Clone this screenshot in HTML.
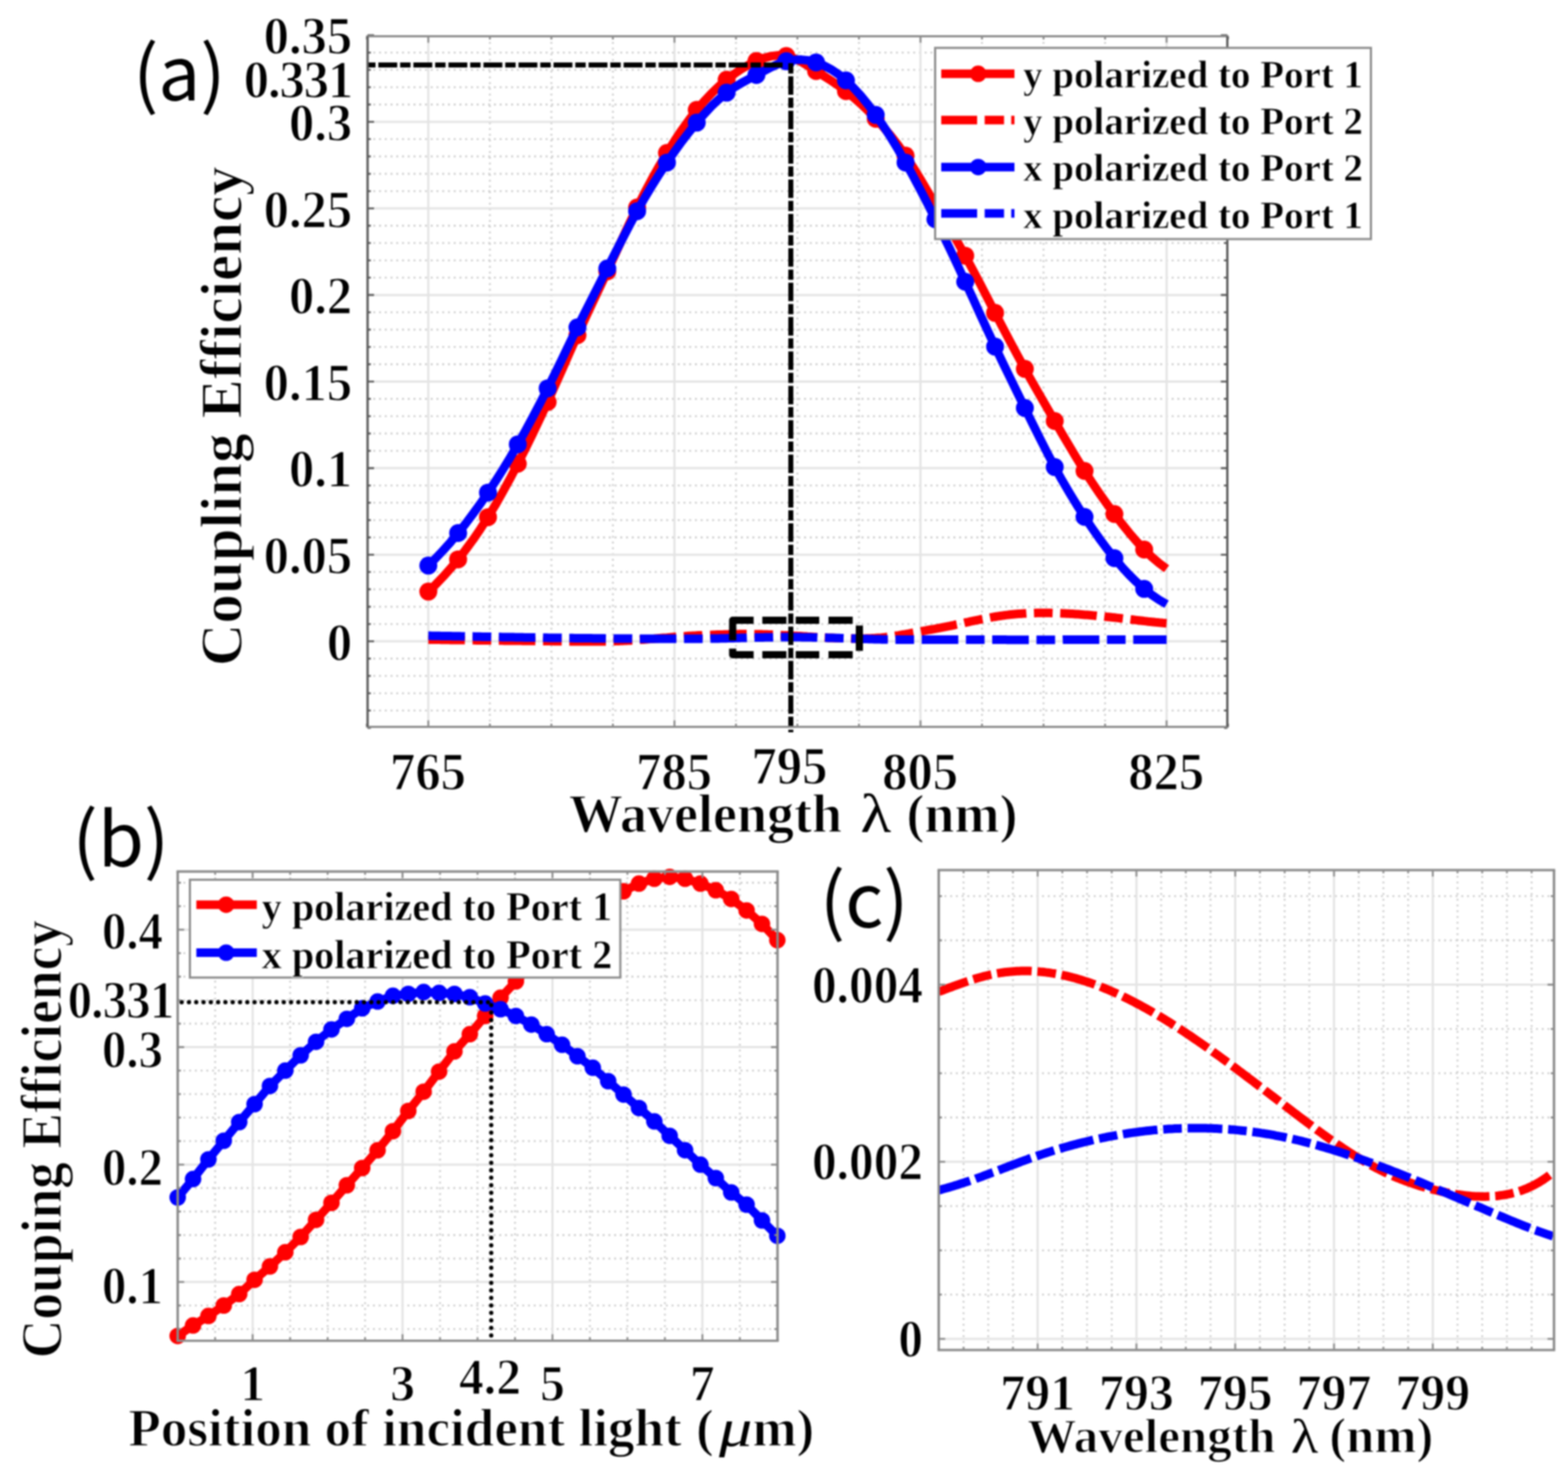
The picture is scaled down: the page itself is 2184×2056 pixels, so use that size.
<!DOCTYPE html>
<html><head><meta charset="utf-8"><title>Coupling efficiency figure</title>
<style>html,body{margin:0;padding:0;background:#fff;}svg{display:block;filter:blur(1px);}</style>
</head><body>
<svg width="2184" height="2056" viewBox="0 0 2184 2056">
<rect width="2184" height="2056" fill="#fff"/>
<g id="pa">
<line x1="682.3" y1="50.5" x2="682.3" y2="1012.5" stroke="#cdcdcd" stroke-width="2.6" stroke-dasharray="2.6 5.4"/>
<line x1="768" y1="50.5" x2="768" y2="1012.5" stroke="#cdcdcd" stroke-width="2.6" stroke-dasharray="2.6 5.4"/>
<line x1="853.7" y1="50.5" x2="853.7" y2="1012.5" stroke="#cdcdcd" stroke-width="2.6" stroke-dasharray="2.6 5.4"/>
<line x1="1025.1" y1="50.5" x2="1025.1" y2="1012.5" stroke="#cdcdcd" stroke-width="2.6" stroke-dasharray="2.6 5.4"/>
<line x1="1110.7" y1="50.5" x2="1110.7" y2="1012.5" stroke="#cdcdcd" stroke-width="2.6" stroke-dasharray="2.6 5.4"/>
<line x1="1196.4" y1="50.5" x2="1196.4" y2="1012.5" stroke="#cdcdcd" stroke-width="2.6" stroke-dasharray="2.6 5.4"/>
<line x1="1367.8" y1="50.5" x2="1367.8" y2="1012.5" stroke="#cdcdcd" stroke-width="2.6" stroke-dasharray="2.6 5.4"/>
<line x1="1453.5" y1="50.5" x2="1453.5" y2="1012.5" stroke="#cdcdcd" stroke-width="2.6" stroke-dasharray="2.6 5.4"/>
<line x1="1539.2" y1="50.5" x2="1539.2" y2="1012.5" stroke="#cdcdcd" stroke-width="2.6" stroke-dasharray="2.6 5.4"/>
<line x1="512" y1="989.8" x2="1709.5" y2="989.8" stroke="#cdcdcd" stroke-width="2.6" stroke-dasharray="2.6 5.4"/>
<line x1="512" y1="965.7" x2="1709.5" y2="965.7" stroke="#cdcdcd" stroke-width="2.6" stroke-dasharray="2.6 5.4"/>
<line x1="512" y1="941.5" x2="1709.5" y2="941.5" stroke="#cdcdcd" stroke-width="2.6" stroke-dasharray="2.6 5.4"/>
<line x1="512" y1="917.4" x2="1709.5" y2="917.4" stroke="#cdcdcd" stroke-width="2.6" stroke-dasharray="2.6 5.4"/>
<line x1="512" y1="869.2" x2="1709.5" y2="869.2" stroke="#cdcdcd" stroke-width="2.6" stroke-dasharray="2.6 5.4"/>
<line x1="512" y1="845.1" x2="1709.5" y2="845.1" stroke="#cdcdcd" stroke-width="2.6" stroke-dasharray="2.6 5.4"/>
<line x1="512" y1="820.9" x2="1709.5" y2="820.9" stroke="#cdcdcd" stroke-width="2.6" stroke-dasharray="2.6 5.4"/>
<line x1="512" y1="796.8" x2="1709.5" y2="796.8" stroke="#cdcdcd" stroke-width="2.6" stroke-dasharray="2.6 5.4"/>
<line x1="512" y1="748.6" x2="1709.5" y2="748.6" stroke="#cdcdcd" stroke-width="2.6" stroke-dasharray="2.6 5.4"/>
<line x1="512" y1="724.5" x2="1709.5" y2="724.5" stroke="#cdcdcd" stroke-width="2.6" stroke-dasharray="2.6 5.4"/>
<line x1="512" y1="700.3" x2="1709.5" y2="700.3" stroke="#cdcdcd" stroke-width="2.6" stroke-dasharray="2.6 5.4"/>
<line x1="512" y1="676.2" x2="1709.5" y2="676.2" stroke="#cdcdcd" stroke-width="2.6" stroke-dasharray="2.6 5.4"/>
<line x1="512" y1="628" x2="1709.5" y2="628" stroke="#cdcdcd" stroke-width="2.6" stroke-dasharray="2.6 5.4"/>
<line x1="512" y1="603.9" x2="1709.5" y2="603.9" stroke="#cdcdcd" stroke-width="2.6" stroke-dasharray="2.6 5.4"/>
<line x1="512" y1="579.7" x2="1709.5" y2="579.7" stroke="#cdcdcd" stroke-width="2.6" stroke-dasharray="2.6 5.4"/>
<line x1="512" y1="555.6" x2="1709.5" y2="555.6" stroke="#cdcdcd" stroke-width="2.6" stroke-dasharray="2.6 5.4"/>
<line x1="512" y1="507.4" x2="1709.5" y2="507.4" stroke="#cdcdcd" stroke-width="2.6" stroke-dasharray="2.6 5.4"/>
<line x1="512" y1="483.3" x2="1709.5" y2="483.3" stroke="#cdcdcd" stroke-width="2.6" stroke-dasharray="2.6 5.4"/>
<line x1="512" y1="459.1" x2="1709.5" y2="459.1" stroke="#cdcdcd" stroke-width="2.6" stroke-dasharray="2.6 5.4"/>
<line x1="512" y1="435" x2="1709.5" y2="435" stroke="#cdcdcd" stroke-width="2.6" stroke-dasharray="2.6 5.4"/>
<line x1="512" y1="386.8" x2="1709.5" y2="386.8" stroke="#cdcdcd" stroke-width="2.6" stroke-dasharray="2.6 5.4"/>
<line x1="512" y1="362.7" x2="1709.5" y2="362.7" stroke="#cdcdcd" stroke-width="2.6" stroke-dasharray="2.6 5.4"/>
<line x1="512" y1="338.5" x2="1709.5" y2="338.5" stroke="#cdcdcd" stroke-width="2.6" stroke-dasharray="2.6 5.4"/>
<line x1="512" y1="314.4" x2="1709.5" y2="314.4" stroke="#cdcdcd" stroke-width="2.6" stroke-dasharray="2.6 5.4"/>
<line x1="512" y1="266.2" x2="1709.5" y2="266.2" stroke="#cdcdcd" stroke-width="2.6" stroke-dasharray="2.6 5.4"/>
<line x1="512" y1="242.1" x2="1709.5" y2="242.1" stroke="#cdcdcd" stroke-width="2.6" stroke-dasharray="2.6 5.4"/>
<line x1="512" y1="217.9" x2="1709.5" y2="217.9" stroke="#cdcdcd" stroke-width="2.6" stroke-dasharray="2.6 5.4"/>
<line x1="512" y1="193.8" x2="1709.5" y2="193.8" stroke="#cdcdcd" stroke-width="2.6" stroke-dasharray="2.6 5.4"/>
<line x1="512" y1="145.6" x2="1709.5" y2="145.6" stroke="#cdcdcd" stroke-width="2.6" stroke-dasharray="2.6 5.4"/>
<line x1="512" y1="121.5" x2="1709.5" y2="121.5" stroke="#cdcdcd" stroke-width="2.6" stroke-dasharray="2.6 5.4"/>
<line x1="512" y1="97.3" x2="1709.5" y2="97.3" stroke="#cdcdcd" stroke-width="2.6" stroke-dasharray="2.6 5.4"/>
<line x1="512" y1="73.2" x2="1709.5" y2="73.2" stroke="#cdcdcd" stroke-width="2.6" stroke-dasharray="2.6 5.4"/>
<line x1="596.6" y1="50.5" x2="596.6" y2="1012.5" stroke="#e4e4e4" stroke-width="3"/>
<line x1="939.4" y1="50.5" x2="939.4" y2="1012.5" stroke="#e4e4e4" stroke-width="3"/>
<line x1="1282.1" y1="50.5" x2="1282.1" y2="1012.5" stroke="#e4e4e4" stroke-width="3"/>
<line x1="1624.9" y1="50.5" x2="1624.9" y2="1012.5" stroke="#e4e4e4" stroke-width="3"/>
<line x1="512" y1="893.3" x2="1709.5" y2="893.3" stroke="#e4e4e4" stroke-width="3"/>
<line x1="512" y1="772.7" x2="1709.5" y2="772.7" stroke="#e4e4e4" stroke-width="3"/>
<line x1="512" y1="652.1" x2="1709.5" y2="652.1" stroke="#e4e4e4" stroke-width="3"/>
<line x1="512" y1="531.5" x2="1709.5" y2="531.5" stroke="#e4e4e4" stroke-width="3"/>
<line x1="512" y1="410.9" x2="1709.5" y2="410.9" stroke="#e4e4e4" stroke-width="3"/>
<line x1="512" y1="290.3" x2="1709.5" y2="290.3" stroke="#e4e4e4" stroke-width="3"/>
<line x1="512" y1="169.7" x2="1709.5" y2="169.7" stroke="#e4e4e4" stroke-width="3"/>
<path d="M596.6 824.1 L607 814 L617.4 803.2 L627.8 791.6 L638.1 779.2 L648.5 765.9 L658.9 751.8 L669.3 736.6 L679.7 720.4 L690.1 703.2 L700.5 684.9 L710.9 665.8 L721.2 646 L731.6 625.5 L742 604.3 L752.4 582.5 L762.8 560 L773.2 536.9 L783.6 513.5 L793.9 490.1 L804.3 467 L814.7 444.5 L825.1 422.3 L835.5 400.2 L845.9 378 L856.3 355.4 L866.7 332.8 L877 310.6 L887.4 289 L897.8 268.5 L908.2 249 L918.6 230.5 L929 213 L939.4 196.4 L949.7 180.9 L960.1 166.4 L970.5 153 L980.9 140.8 L991.3 129.8 L1001.7 119.9 L1012.1 111 L1022.5 103.1 L1032.8 96.1 L1043.2 90.1 L1053.6 85 L1064 80.9 L1074.4 78.1 L1084.8 77 L1095.2 78 L1105.5 81.2 L1115.9 86.2 L1126.3 92.4 L1136.7 99 L1147.1 105.6 L1157.5 112.3 L1167.9 119.4 L1178.3 127 L1188.6 135.5 L1199 144.7 L1209.4 154.7 L1219.8 165.4 L1230.2 176.8 L1240.6 189 L1251 202.2 L1261.3 216.8 L1271.7 232.7 L1282.1 249.7 L1292.5 267.3 L1302.9 285 L1313.3 302.5 L1323.7 320 L1334.1 337.8 L1344.4 356.2 L1354.8 375.5 L1365.2 395.3 L1375.6 415.6 L1386 435.8 L1396.4 455.8 L1406.8 475.5 L1417.1 494.8 L1427.5 513.8 L1437.9 532.4 L1448.3 550.6 L1458.7 568.6 L1469.1 586.5 L1479.5 604.4 L1489.9 622 L1500.2 639.3 L1510.6 656 L1521 672 L1531.4 687.3 L1541.8 701.9 L1552.2 716 L1562.6 729.5 L1572.9 742.3 L1583.3 754.4 L1593.7 765.5 L1604.1 775.6 L1614.5 784.5 L1624.9 792.2" stroke="#ff0000" stroke-width="12" fill="none" stroke-linejoin="round"/>
<circle cx="596.6" cy="824.1" r="12.5" fill="#ff0000"/>
<circle cx="638.1" cy="779.2" r="12.5" fill="#ff0000"/>
<circle cx="679.7" cy="720.4" r="12.5" fill="#ff0000"/>
<circle cx="721.2" cy="646" r="12.5" fill="#ff0000"/>
<circle cx="762.8" cy="560" r="12.5" fill="#ff0000"/>
<circle cx="804.3" cy="467" r="12.5" fill="#ff0000"/>
<circle cx="845.9" cy="378" r="12.5" fill="#ff0000"/>
<circle cx="887.4" cy="289" r="12.5" fill="#ff0000"/>
<circle cx="929" cy="213" r="12.5" fill="#ff0000"/>
<circle cx="970.5" cy="153" r="12.5" fill="#ff0000"/>
<circle cx="1012.1" cy="111" r="12.5" fill="#ff0000"/>
<circle cx="1053.6" cy="85" r="12.5" fill="#ff0000"/>
<circle cx="1095.2" cy="78" r="12.5" fill="#ff0000"/>
<circle cx="1136.7" cy="99" r="12.5" fill="#ff0000"/>
<circle cx="1178.3" cy="127" r="12.5" fill="#ff0000"/>
<circle cx="1219.8" cy="165.4" r="12.5" fill="#ff0000"/>
<circle cx="1261.3" cy="216.8" r="12.5" fill="#ff0000"/>
<circle cx="1302.9" cy="285" r="12.5" fill="#ff0000"/>
<circle cx="1344.4" cy="356.2" r="12.5" fill="#ff0000"/>
<circle cx="1386" cy="435.8" r="12.5" fill="#ff0000"/>
<circle cx="1427.5" cy="513.8" r="12.5" fill="#ff0000"/>
<circle cx="1469.1" cy="586.5" r="12.5" fill="#ff0000"/>
<circle cx="1510.6" cy="656" r="12.5" fill="#ff0000"/>
<circle cx="1552.2" cy="716" r="12.5" fill="#ff0000"/>
<circle cx="1593.7" cy="765.5" r="12.5" fill="#ff0000"/>
<path d="M596.6 890.9 L599.2 890.9 L601.8 891 L604.3 891 L606.9 891 L609.5 891.1 L612.1 891.1 L614.6 891.2 L617.2 891.2 L619.8 891.2 L622.4 891.3 L624.9 891.3 L627.5 891.4 L630.1 891.4 L632.7 891.4 L635.3 891.5 L637.8 891.5 L640.4 891.5 L643 891.6 L645.6 891.6 L648.1 891.7 L650.7 891.7 L653.3 891.7 L655.9 891.8 L658.5 891.8 L661 891.8 L663.6 891.9 L666.2 891.9 L668.8 891.9 L671.3 892 L673.9 892 L676.5 892 L679.1 892.1 L681.6 892.1 L684.2 892.1 L686.8 892.2 L689.4 892.2 L692 892.2 L694.5 892.3 L697.1 892.3 L699.7 892.3 L702.3 892.4 L704.8 892.4 L707.4 892.4 L710 892.4 L712.6 892.5 L715.1 892.5 L717.7 892.5 L720.3 892.6 L722.9 892.6 L725.5 892.6 L728 892.7 L730.6 892.7 L733.2 892.7 L735.8 892.8 L738.3 892.8 L740.9 892.8 L743.5 892.8 L746.1 892.9 L748.7 892.9 L751.2 892.9 L753.8 893 L756.4 893 L759 893 L761.5 893.1 L764.1 893.1 L766.7 893.1 L769.3 893.1 L771.8 893.2 L774.4 893.2 L777 893.2 L779.6 893.3 L782.2 893.3 L784.7 893.3 L787.3 893.4 L789.9 893.4 L792.5 893.4 L795 893.4 L797.6 893.5 L800.2 893.5 L802.8 893.5 L805.3 893.5 L807.9 893.6 L810.5 893.6 L813.1 893.6 L815.7 893.6 L818.2 893.6 L820.8 893.6 L823.4 893.6 L826 893.6 L828.5 893.6 L831.1 893.6 L833.7 893.6 L836.3 893.6 L838.9 893.5 L841.4 893.5 L844 893.5 L846.6 893.4 L849.2 893.3 L851.7 893.3 L854.3 893.2 L856.9 893.1 L859.5 893 L862 892.9 L864.6 892.8 L867.2 892.7 L869.8 892.6 L872.4 892.5 L874.9 892.3 L877.5 892.2 L880.1 892 L882.7 891.8 L885.2 891.7 L887.8 891.5 L890.4 891.3 L893 891.1 L895.5 890.9 L898.1 890.7 L900.7 890.5 L903.3 890.3 L905.9 890.1 L908.4 889.9 L911 889.7 L913.6 889.4 L916.2 889.2 L918.7 889 L921.3 888.8 L923.9 888.6 L926.5 888.4 L929.1 888.2 L931.6 887.9 L934.2 887.7 L936.8 887.5 L939.4 887.3 L941.9 887.1 L944.5 886.9 L947.1 886.7 L949.7 886.5 L952.2 886.4 L954.8 886.2 L957.4 886 L960 885.8 L962.6 885.7 L965.1 885.5 L967.7 885.4 L970.3 885.2 L972.9 885.1 L975.4 885 L978 884.9 L980.6 884.7 L983.2 884.6 L985.7 884.5 L988.3 884.5 L990.9 884.4 L993.5 884.3 L996.1 884.2 L998.6 884.1 L1001.2 884 L1003.8 884 L1006.4 883.9 L1008.9 883.8 L1011.5 883.7 L1014.1 883.7 L1016.7 883.6 L1019.3 883.5 L1021.8 883.5 L1024.4 883.4 L1027 883.4 L1029.6 883.3 L1032.1 883.3 L1034.7 883.3 L1037.3 883.3 L1039.9 883.3 L1042.4 883.3 L1045 883.3 L1047.6 883.3 L1050.2 883.4 L1052.8 883.4 L1055.3 883.5 L1057.9 883.5 L1060.5 883.6 L1063.1 883.7 L1065.6 883.8 L1068.2 883.8 L1070.8 883.9 L1073.4 884 L1075.9 884.1 L1078.5 884.2 L1081.1 884.4 L1083.7 884.5 L1086.3 884.6 L1088.8 884.7 L1091.4 884.9 L1094 885 L1096.6 885.1 L1099.1 885.3 L1101.7 885.4 L1104.3 885.6 L1106.9 885.7 L1109.5 885.8 L1112 886 L1114.6 886.1 L1117.2 886.3 L1119.8 886.5 L1122.3 886.6 L1124.9 886.8 L1127.5 886.9 L1130.1 887.1 L1132.6 887.2 L1135.2 887.4 L1137.8 887.5 L1140.4 887.7 L1143 887.8 L1145.5 888 L1148.1 888.1 L1150.7 888.2 L1153.3 888.4 L1155.8 888.5 L1158.4 888.6 L1161 888.7 L1163.6 888.8 L1166.1 888.9 L1168.7 889 L1171.3 889 L1173.9 889.1 L1176.5 889.2 L1179 889.2 L1181.6 889.3 L1184.2 889.3 L1186.8 889.4 L1189.3 889.4 L1191.9 889.4 L1194.5 889.4 L1197.1 889.4 L1199.7 889.4 L1202.2 889.4 L1204.8 889.4 L1207.4 889.3 L1210 889.3 L1212.5 889.2 L1215.1 889.1 L1217.7 889 L1220.3 888.8 L1222.8 888.6 L1225.4 888.4 L1228 888.2 L1230.6 887.9 L1233.2 887.6 L1235.7 887.3 L1238.3 887 L1240.9 886.6 L1243.5 886.3 L1246 885.9 L1248.6 885.5 L1251.2 885.1 L1253.8 884.6 L1256.3 884.2 L1258.9 883.8 L1261.5 883.3 L1264.1 882.8 L1266.7 882.4 L1269.2 881.9 L1271.8 881.4 L1274.4 881 L1277 880.5 L1279.5 880 L1282.1 879.6 L1284.7 879.1 L1287.3 878.6 L1289.9 878.2 L1292.4 877.7 L1295 877.2 L1297.6 876.8 L1300.2 876.3 L1302.7 875.9 L1305.3 875.4 L1307.9 874.9 L1310.5 874.4 L1313 873.9 L1315.6 873.4 L1318.2 872.9 L1320.8 872.4 L1323.4 871.9 L1325.9 871.3 L1328.5 870.8 L1331.1 870.2 L1333.7 869.7 L1336.2 869.1 L1338.8 868.5 L1341.4 868 L1344 867.4 L1346.5 866.8 L1349.1 866.3 L1351.7 865.7 L1354.3 865.2 L1356.9 864.6 L1359.4 864.1 L1362 863.6 L1364.6 863 L1367.2 862.5 L1369.7 862 L1372.3 861.5 L1374.9 861 L1377.5 860.6 L1380.1 860.1 L1382.6 859.7 L1385.2 859.2 L1387.8 858.8 L1390.4 858.4 L1392.9 858 L1395.5 857.6 L1398.1 857.3 L1400.7 856.9 L1403.2 856.6 L1405.8 856.3 L1408.4 856 L1411 855.7 L1413.6 855.5 L1416.1 855.3 L1418.7 855.1 L1421.3 854.9 L1423.9 854.7 L1426.4 854.5 L1429 854.4 L1431.6 854.2 L1434.2 854.1 L1436.7 854 L1439.3 854 L1441.9 853.9 L1444.5 853.8 L1447.1 853.8 L1449.6 853.8 L1452.2 853.8 L1454.8 853.8 L1457.4 853.8 L1459.9 853.8 L1462.5 853.8 L1465.1 853.9 L1467.7 854 L1470.3 854 L1472.8 854.1 L1475.4 854.2 L1478 854.3 L1480.6 854.4 L1483.1 854.5 L1485.7 854.7 L1488.3 854.8 L1490.9 855 L1493.4 855.1 L1496 855.3 L1498.6 855.5 L1501.2 855.6 L1503.8 855.8 L1506.3 856 L1508.9 856.2 L1511.5 856.4 L1514.1 856.6 L1516.6 856.8 L1519.2 857 L1521.8 857.3 L1524.4 857.5 L1526.9 857.7 L1529.5 858 L1532.1 858.2 L1534.7 858.5 L1537.3 858.7 L1539.8 859 L1542.4 859.2 L1545 859.5 L1547.6 859.8 L1550.1 860.1 L1552.7 860.3 L1555.3 860.6 L1557.9 860.9 L1560.5 861.2 L1563 861.5 L1565.6 861.8 L1568.2 862.1 L1570.8 862.4 L1573.3 862.7 L1575.9 863 L1578.5 863.3 L1581.1 863.6 L1583.6 863.9 L1586.2 864.2 L1588.8 864.5 L1591.4 864.8 L1594 865.1 L1596.5 865.4 L1599.1 865.7 L1601.7 865.9 L1604.3 866.2 L1606.8 866.5 L1609.4 866.8 L1612 867 L1614.6 867.3 L1617.1 867.5 L1619.7 867.8 L1622.3 868 L1624.9 868.2" stroke="#ff0000" stroke-width="12" fill="none" stroke-dasharray="51 10.6 26 10.6"/>
<path d="M596.6 787.8 L607 777.5 L617.4 766.5 L627.8 754.9 L638.1 742.5 L648.5 729.5 L658.9 715.7 L669.3 701.3 L679.7 686.2 L690.1 670.4 L700.5 653.9 L710.9 636.8 L721.2 618.9 L731.6 600.4 L742 581.2 L752.4 561.3 L762.8 540.9 L773.2 519.9 L783.6 498.6 L793.9 477.2 L804.3 456 L814.7 435.2 L825.1 414.7 L835.5 394.3 L845.9 374 L856.3 353.6 L866.7 333.3 L877 313.4 L887.4 294.2 L897.8 275.9 L908.2 258.6 L918.6 242.1 L929 226.4 L939.4 211.4 L949.7 197.1 L960.1 183.6 L970.5 170.8 L980.9 158.8 L991.3 147.7 L1001.7 137.8 L1012.1 129.1 L1022.5 121.8 L1032.8 115.6 L1043.2 110 L1053.6 104.5 L1064 98.9 L1074.4 93.5 L1084.8 88.8 L1095.2 85.3 L1105.5 83.4 L1115.9 83.1 L1126.3 84.3 L1136.7 87 L1147.1 91.1 L1157.5 96.6 L1167.9 103.5 L1178.3 112 L1188.6 122 L1199 133.4 L1209.4 146.1 L1219.8 160.1 L1230.2 175.2 L1240.6 191.3 L1251 208.4 L1261.3 226.4 L1271.7 245.2 L1282.1 264.7 L1292.5 284.8 L1302.9 305.5 L1313.3 326.6 L1323.7 348.2 L1334.1 370.2 L1344.4 392.5 L1354.8 415.1 L1365.2 437.9 L1375.6 460.5 L1386 482.8 L1396.4 504.6 L1406.8 526 L1417.1 547.2 L1427.5 568.3 L1437.9 589.5 L1448.3 610.4 L1458.7 630.9 L1469.1 650.6 L1479.5 669.3 L1489.9 687 L1500.2 703.9 L1510.6 720 L1521 735.5 L1531.4 750.3 L1541.8 764.3 L1552.2 777.5 L1562.6 789.7 L1572.9 800.9 L1583.3 811.1 L1593.7 820.3 L1604.1 828.5 L1614.5 835.6 L1624.9 841.6" stroke="#0000ff" stroke-width="12" fill="none" stroke-linejoin="round"/>
<circle cx="596.6" cy="787.8" r="12.5" fill="#0000ff"/>
<circle cx="638.1" cy="742.5" r="12.5" fill="#0000ff"/>
<circle cx="679.7" cy="686.2" r="12.5" fill="#0000ff"/>
<circle cx="721.2" cy="618.9" r="12.5" fill="#0000ff"/>
<circle cx="762.8" cy="540.9" r="12.5" fill="#0000ff"/>
<circle cx="804.3" cy="456" r="12.5" fill="#0000ff"/>
<circle cx="845.9" cy="374" r="12.5" fill="#0000ff"/>
<circle cx="887.4" cy="294.2" r="12.5" fill="#0000ff"/>
<circle cx="929" cy="226.4" r="12.5" fill="#0000ff"/>
<circle cx="970.5" cy="170.8" r="12.5" fill="#0000ff"/>
<circle cx="1012.1" cy="129.1" r="12.5" fill="#0000ff"/>
<circle cx="1053.6" cy="104.5" r="12.5" fill="#0000ff"/>
<circle cx="1095.2" cy="85.3" r="12.5" fill="#0000ff"/>
<circle cx="1136.7" cy="87" r="12.5" fill="#0000ff"/>
<circle cx="1178.3" cy="112" r="12.5" fill="#0000ff"/>
<circle cx="1219.8" cy="160.1" r="12.5" fill="#0000ff"/>
<circle cx="1261.3" cy="226.4" r="12.5" fill="#0000ff"/>
<circle cx="1302.9" cy="305.5" r="12.5" fill="#0000ff"/>
<circle cx="1344.4" cy="392.5" r="12.5" fill="#0000ff"/>
<circle cx="1386" cy="482.8" r="12.5" fill="#0000ff"/>
<circle cx="1427.5" cy="568.3" r="12.5" fill="#0000ff"/>
<circle cx="1469.1" cy="650.6" r="12.5" fill="#0000ff"/>
<circle cx="1510.6" cy="720" r="12.5" fill="#0000ff"/>
<circle cx="1552.2" cy="777.5" r="12.5" fill="#0000ff"/>
<circle cx="1593.7" cy="820.3" r="12.5" fill="#0000ff"/>
<path d="M596.6 885.6 L599.2 885.6 L601.8 885.7 L604.3 885.7 L606.9 885.7 L609.5 885.8 L612.1 885.8 L614.6 885.9 L617.2 885.9 L619.8 886 L622.4 886 L624.9 886.1 L627.5 886.1 L630.1 886.2 L632.7 886.2 L635.3 886.2 L637.8 886.3 L640.4 886.3 L643 886.4 L645.6 886.4 L648.1 886.5 L650.7 886.5 L653.3 886.6 L655.9 886.6 L658.5 886.6 L661 886.7 L663.6 886.7 L666.2 886.8 L668.8 886.8 L671.3 886.9 L673.9 886.9 L676.5 887 L679.1 887 L681.6 887 L684.2 887.1 L686.8 887.1 L689.4 887.2 L692 887.2 L694.5 887.3 L697.1 887.3 L699.7 887.4 L702.3 887.4 L704.8 887.4 L707.4 887.5 L710 887.5 L712.6 887.6 L715.1 887.6 L717.7 887.7 L720.3 887.7 L722.9 887.7 L725.5 887.8 L728 887.8 L730.6 887.9 L733.2 887.9 L735.8 887.9 L738.3 888 L740.9 888 L743.5 888.1 L746.1 888.1 L748.7 888.2 L751.2 888.2 L753.8 888.2 L756.4 888.3 L759 888.3 L761.5 888.3 L764.1 888.4 L766.7 888.4 L769.3 888.5 L771.8 888.5 L774.4 888.5 L777 888.6 L779.6 888.6 L782.2 888.6 L784.7 888.7 L787.3 888.7 L789.9 888.7 L792.5 888.8 L795 888.8 L797.6 888.8 L800.2 888.9 L802.8 888.9 L805.3 888.9 L807.9 889 L810.5 889 L813.1 889 L815.7 889.1 L818.2 889.1 L820.8 889.1 L823.4 889.1 L826 889.2 L828.5 889.2 L831.1 889.2 L833.7 889.3 L836.3 889.3 L838.9 889.3 L841.4 889.3 L844 889.4 L846.6 889.4 L849.2 889.4 L851.7 889.4 L854.3 889.5 L856.9 889.5 L859.5 889.5 L862 889.5 L864.6 889.5 L867.2 889.6 L869.8 889.6 L872.4 889.6 L874.9 889.6 L877.5 889.6 L880.1 889.6 L882.7 889.7 L885.2 889.7 L887.8 889.7 L890.4 889.7 L893 889.7 L895.5 889.7 L898.1 889.7 L900.7 889.8 L903.3 889.8 L905.9 889.8 L908.4 889.8 L911 889.8 L913.6 889.8 L916.2 889.8 L918.7 889.8 L921.3 889.8 L923.9 889.8 L926.5 889.8 L929.1 889.8 L931.6 889.8 L934.2 889.8 L936.8 889.8 L939.4 889.8 L941.9 889.8 L944.5 889.8 L947.1 889.8 L949.7 889.8 L952.2 889.8 L954.8 889.8 L957.4 889.8 L960 889.8 L962.6 889.8 L965.1 889.8 L967.7 889.8 L970.3 889.7 L972.9 889.7 L975.4 889.7 L978 889.7 L980.6 889.7 L983.2 889.6 L985.7 889.6 L988.3 889.6 L990.9 889.5 L993.5 889.5 L996.1 889.5 L998.6 889.4 L1001.2 889.4 L1003.8 889.3 L1006.4 889.3 L1008.9 889.2 L1011.5 889.2 L1014.1 889.1 L1016.7 889 L1019.3 889 L1021.8 888.9 L1024.4 888.8 L1027 888.8 L1029.6 888.7 L1032.1 888.6 L1034.7 888.5 L1037.3 888.4 L1039.9 888.4 L1042.4 888.3 L1045 888.2 L1047.6 888.2 L1050.2 888.1 L1052.8 888.1 L1055.3 888 L1057.9 887.9 L1060.5 887.9 L1063.1 887.9 L1065.6 887.8 L1068.2 887.8 L1070.8 887.7 L1073.4 887.7 L1075.9 887.7 L1078.5 887.6 L1081.1 887.6 L1083.7 887.6 L1086.3 887.6 L1088.8 887.6 L1091.4 887.6 L1094 887.6 L1096.6 887.6 L1099.1 887.6 L1101.7 887.6 L1104.3 887.6 L1106.9 887.6 L1109.5 887.6 L1112 887.6 L1114.6 887.6 L1117.2 887.7 L1119.8 887.7 L1122.3 887.7 L1124.9 887.8 L1127.5 887.8 L1130.1 887.8 L1132.6 887.9 L1135.2 887.9 L1137.8 888 L1140.4 888.1 L1143 888.1 L1145.5 888.2 L1148.1 888.2 L1150.7 888.3 L1153.3 888.4 L1155.8 888.4 L1158.4 888.5 L1161 888.6 L1163.6 888.7 L1166.1 888.8 L1168.7 888.8 L1171.3 888.9 L1173.9 889 L1176.5 889.1 L1179 889.2 L1181.6 889.3 L1184.2 889.3 L1186.8 889.4 L1189.3 889.5 L1191.9 889.6 L1194.5 889.7 L1197.1 889.8 L1199.7 889.9 L1202.2 889.9 L1204.8 890 L1207.4 890.1 L1210 890.2 L1212.5 890.3 L1215.1 890.3 L1217.7 890.4 L1220.3 890.5 L1222.8 890.5 L1225.4 890.6 L1228 890.7 L1230.6 890.7 L1233.2 890.7 L1235.7 890.8 L1238.3 890.8 L1240.9 890.8 L1243.5 890.9 L1246 890.9 L1248.6 890.9 L1251.2 890.9 L1253.8 890.9 L1256.3 890.9 L1258.9 890.9 L1261.5 890.9 L1264.1 890.9 L1266.7 890.9 L1269.2 890.9 L1271.8 890.9 L1274.4 890.9 L1277 890.9 L1279.5 890.9 L1282.1 890.9 L1284.7 890.9 L1287.3 890.9 L1289.9 890.9 L1292.4 890.9 L1295 890.9 L1297.6 890.9 L1300.2 890.9 L1302.7 890.9 L1305.3 890.9 L1307.9 890.9 L1310.5 890.9 L1313 891 L1315.6 891 L1318.2 891 L1320.8 891 L1323.4 891 L1325.9 891 L1328.5 891 L1331.1 891 L1333.7 891 L1336.2 891 L1338.8 891 L1341.4 891 L1344 891 L1346.5 891 L1349.1 891 L1351.7 891.1 L1354.3 891.1 L1356.9 891.1 L1359.4 891.1 L1362 891.1 L1364.6 891.1 L1367.2 891.1 L1369.7 891.1 L1372.3 891.1 L1374.9 891.1 L1377.5 891.1 L1380.1 891.1 L1382.6 891.1 L1385.2 891.1 L1387.8 891.1 L1390.4 891.1 L1392.9 891.1 L1395.5 891.1 L1398.1 891.1 L1400.7 891.1 L1403.2 891.2 L1405.8 891.2 L1408.4 891.2 L1411 891.2 L1413.6 891.2 L1416.1 891.2 L1418.7 891.2 L1421.3 891.2 L1423.9 891.2 L1426.4 891.2 L1429 891.2 L1431.6 891.2 L1434.2 891.2 L1436.7 891.2 L1439.3 891.2 L1441.9 891.2 L1444.5 891.2 L1447.1 891.2 L1449.6 891.2 L1452.2 891.2 L1454.8 891.2 L1457.4 891.2 L1459.9 891.2 L1462.5 891.2 L1465.1 891.2 L1467.7 891.2 L1470.3 891.2 L1472.8 891.2 L1475.4 891.2 L1478 891.2 L1480.6 891.1 L1483.1 891.1 L1485.7 891.1 L1488.3 891.1 L1490.9 891.1 L1493.4 891.1 L1496 891.1 L1498.6 891.1 L1501.2 891.1 L1503.8 891.1 L1506.3 891.1 L1508.9 891.1 L1511.5 891.1 L1514.1 891.1 L1516.6 891.1 L1519.2 891.1 L1521.8 891.1 L1524.4 891.1 L1526.9 891.1 L1529.5 891.1 L1532.1 891.1 L1534.7 891.1 L1537.3 891.1 L1539.8 891.1 L1542.4 891.1 L1545 891.1 L1547.6 891.1 L1550.1 891.1 L1552.7 891.1 L1555.3 891.1 L1557.9 891.1 L1560.5 891.1 L1563 891.1 L1565.6 891.1 L1568.2 891.1 L1570.8 891.1 L1573.3 891.1 L1575.9 891.1 L1578.5 891.1 L1581.1 891.1 L1583.6 891.1 L1586.2 891.1 L1588.8 891.1 L1591.4 891.1 L1594 891.1 L1596.5 891.1 L1599.1 891.1 L1601.7 891.1 L1604.3 891.1 L1606.8 891.1 L1609.4 891.1 L1612 891.1 L1614.6 891.1 L1617.1 891.1 L1619.7 891.1 L1622.3 891.1 L1624.9 891.1" stroke="#0000ff" stroke-width="12" fill="none" stroke-dasharray="51 10.6 26 10.6"/>
<path d="M512 90.5 H1094" stroke="#000" stroke-width="7" stroke-dasharray="26.3 4 14.5 4" stroke-dashoffset="33.8"/>
<path d="M1101.5 85.5 V1020" stroke="#000" stroke-width="7" stroke-dasharray="25.8 3.9 14.3 3.9" stroke-dashoffset="27.1"/>
<g stroke="#000" stroke-width="10" fill="none" stroke-linejoin="round">
<path d="M1049.7 864 H1020.5 V892"/>
<path d="M1049.7 912 H1020.5 V903.4"/>
<path d="M1061.8 864 H1095.4 M1061.8 912 H1095.4"/>
<path d="M1108.3 864 H1141.1 M1108.3 912 H1141.1"/>
<path d="M1154 864 H1187.7 M1154 912 H1187.7"/>
<path d="M1197 871.3 V906.6"/>
</g>
<path d="M596.6 1012.5v-9 M596.6 50.5v9 M939.4 1012.5v-9 M939.4 50.5v9 M1282.1 1012.5v-9 M1282.1 50.5v9 M1624.9 1012.5v-9 M1624.9 50.5v9 M510.9 1012.5v-4.5 M510.9 50.5v4.5 M596.6 1012.5v-4.5 M596.6 50.5v4.5 M682.3 1012.5v-4.5 M682.3 50.5v4.5 M768 1012.5v-4.5 M768 50.5v4.5 M853.7 1012.5v-4.5 M853.7 50.5v4.5 M939.4 1012.5v-4.5 M939.4 50.5v4.5 M1025.1 1012.5v-4.5 M1025.1 50.5v4.5 M1110.7 1012.5v-4.5 M1110.7 50.5v4.5 M1196.4 1012.5v-4.5 M1196.4 50.5v4.5 M1282.1 1012.5v-4.5 M1282.1 50.5v4.5 M1367.8 1012.5v-4.5 M1367.8 50.5v4.5 M1453.5 1012.5v-4.5 M1453.5 50.5v4.5 M1539.2 1012.5v-4.5 M1539.2 50.5v4.5 M1624.9 1012.5v-4.5 M1624.9 50.5v4.5 M1710.6 1012.5v-4.5 M1710.6 50.5v4.5" stroke="#8c8c8c" stroke-width="2.6" fill="none"/>
<path d="M512 893.3h9 M1709.5 893.3h-9 M512 772.7h9 M1709.5 772.7h-9 M512 652.1h9 M1709.5 652.1h-9 M512 531.5h9 M1709.5 531.5h-9 M512 410.9h9 M1709.5 410.9h-9 M512 290.3h9 M1709.5 290.3h-9 M512 169.7h9 M1709.5 169.7h-9 M512 49.1h9 M1709.5 49.1h-9 M512 1013.9h4.5 M1709.5 1013.9h-4.5 M512 989.8h4.5 M1709.5 989.8h-4.5 M512 965.7h4.5 M1709.5 965.7h-4.5 M512 941.5h4.5 M1709.5 941.5h-4.5 M512 917.4h4.5 M1709.5 917.4h-4.5 M512 893.3h4.5 M1709.5 893.3h-4.5 M512 869.2h4.5 M1709.5 869.2h-4.5 M512 845.1h4.5 M1709.5 845.1h-4.5 M512 820.9h4.5 M1709.5 820.9h-4.5 M512 796.8h4.5 M1709.5 796.8h-4.5 M512 772.7h4.5 M1709.5 772.7h-4.5 M512 748.6h4.5 M1709.5 748.6h-4.5 M512 724.5h4.5 M1709.5 724.5h-4.5 M512 700.3h4.5 M1709.5 700.3h-4.5 M512 676.2h4.5 M1709.5 676.2h-4.5 M512 652.1h4.5 M1709.5 652.1h-4.5 M512 628h4.5 M1709.5 628h-4.5 M512 603.9h4.5 M1709.5 603.9h-4.5 M512 579.7h4.5 M1709.5 579.7h-4.5 M512 555.6h4.5 M1709.5 555.6h-4.5 M512 531.5h4.5 M1709.5 531.5h-4.5 M512 507.4h4.5 M1709.5 507.4h-4.5 M512 483.3h4.5 M1709.5 483.3h-4.5 M512 459.1h4.5 M1709.5 459.1h-4.5 M512 435h4.5 M1709.5 435h-4.5 M512 410.9h4.5 M1709.5 410.9h-4.5 M512 386.8h4.5 M1709.5 386.8h-4.5 M512 362.7h4.5 M1709.5 362.7h-4.5 M512 338.5h4.5 M1709.5 338.5h-4.5 M512 314.4h4.5 M1709.5 314.4h-4.5 M512 290.3h4.5 M1709.5 290.3h-4.5 M512 266.2h4.5 M1709.5 266.2h-4.5 M512 242.1h4.5 M1709.5 242.1h-4.5 M512 217.9h4.5 M1709.5 217.9h-4.5 M512 193.8h4.5 M1709.5 193.8h-4.5 M512 169.7h4.5 M1709.5 169.7h-4.5 M512 145.6h4.5 M1709.5 145.6h-4.5 M512 121.5h4.5 M1709.5 121.5h-4.5 M512 97.3h4.5 M1709.5 97.3h-4.5 M512 73.2h4.5 M1709.5 73.2h-4.5 M512 49.1h4.5 M1709.5 49.1h-4.5" stroke="#5a5a5a" stroke-width="2.6" fill="none"/>
<path d="M510.4 50.5H1711.1 M510.4 1012.5H1711.1" stroke="#8c8c8c" stroke-width="3.2" fill="none"/>
<path d="M512 50.5V1012.5 M1709.5 50.5V1012.5" stroke="#5a5a5a" stroke-width="3.2" fill="none"/>
<rect x="1302.5" y="66.7" width="607" height="266.3" fill="#fff" stroke="#8c8c8c" stroke-width="3"/>
<path d="M1311 102.8 H1413" stroke="#ff0000" stroke-width="12"/>
<circle cx="1362.5" cy="102.8" r="11.5" fill="#ff0000"/>
<text x="1425" y="122.2" font-family="'Liberation Serif', 'Times New Roman', serif" font-weight="bold" font-size="54.3" text-anchor="start" stroke="#fff" stroke-width="0.8">y polarized to Port 1</text>
<path d="M1311 167.3 H1413" stroke="#ff0000" stroke-width="12" stroke-dasharray="50 10.5 27 10"/>
<text x="1425" y="187.3" font-family="'Liberation Serif', 'Times New Roman', serif" font-weight="bold" font-size="54.3" text-anchor="start" stroke="#fff" stroke-width="0.8">y polarized to Port 2</text>
<path d="M1311 232.7 H1413" stroke="#0000ff" stroke-width="12"/>
<circle cx="1362.5" cy="232.7" r="11.5" fill="#0000ff"/>
<text x="1425" y="252.4" font-family="'Liberation Serif', 'Times New Roman', serif" font-weight="bold" font-size="54.3" text-anchor="start" stroke="#fff" stroke-width="0.8">x polarized to Port 2</text>
<path d="M1311 297.3 H1413" stroke="#0000ff" stroke-width="12" stroke-dasharray="50 10.5 27 10"/>
<text x="1425" y="317.5" font-family="'Liberation Serif', 'Times New Roman', serif" font-weight="bold" font-size="54.3" text-anchor="start" stroke="#fff" stroke-width="0.8">x polarized to Port 1</text>
</g>
<text transform="translate(596.1 1099.5) scale(1.0 1.04)" font-family="'Liberation Serif', 'Times New Roman', serif" font-weight="bold" font-size="70.5" text-anchor="middle"  stroke="#fff" stroke-width="1.4">765</text>
<text transform="translate(938.9 1099.5) scale(1.0 1.04)" font-family="'Liberation Serif', 'Times New Roman', serif" font-weight="bold" font-size="70.5" text-anchor="middle"  stroke="#fff" stroke-width="1.4">785</text>
<text transform="translate(1281.6 1099.5) scale(1.0 1.04)" font-family="'Liberation Serif', 'Times New Roman', serif" font-weight="bold" font-size="70.5" text-anchor="middle"  stroke="#fff" stroke-width="1.4">805</text>
<text transform="translate(1624.4 1099.5) scale(1.0 1.04)" font-family="'Liberation Serif', 'Times New Roman', serif" font-weight="bold" font-size="70.5" text-anchor="middle"  stroke="#fff" stroke-width="1.4">825</text>
<text transform="translate(1099.5 1091.5) scale(1.0 1.04)" font-family="'Liberation Serif', 'Times New Roman', serif" font-weight="bold" font-size="70.5" text-anchor="middle"  stroke="#fff" stroke-width="1.4">795</text>
<text transform="translate(490.6 919.6) scale(1.0 1.04)" font-family="'Liberation Serif', 'Times New Roman', serif" font-weight="bold" font-size="70.5" text-anchor="end"  stroke="#fff" stroke-width="1.4">0</text>
<text transform="translate(490.6 799) scale(1.0 1.04)" font-family="'Liberation Serif', 'Times New Roman', serif" font-weight="bold" font-size="70.5" text-anchor="end"  stroke="#fff" stroke-width="1.4">0.05</text>
<text transform="translate(490.6 678.4) scale(1.0 1.04)" font-family="'Liberation Serif', 'Times New Roman', serif" font-weight="bold" font-size="70.5" text-anchor="end"  stroke="#fff" stroke-width="1.4">0.1</text>
<text transform="translate(490.6 557.8) scale(1.0 1.04)" font-family="'Liberation Serif', 'Times New Roman', serif" font-weight="bold" font-size="70.5" text-anchor="end"  stroke="#fff" stroke-width="1.4">0.15</text>
<text transform="translate(490.6 437.2) scale(1.0 1.04)" font-family="'Liberation Serif', 'Times New Roman', serif" font-weight="bold" font-size="70.5" text-anchor="end"  stroke="#fff" stroke-width="1.4">0.2</text>
<text transform="translate(490.6 316.6) scale(1.0 1.04)" font-family="'Liberation Serif', 'Times New Roman', serif" font-weight="bold" font-size="70.5" text-anchor="end"  stroke="#fff" stroke-width="1.4">0.25</text>
<text transform="translate(490.6 196) scale(1.0 1.04)" font-family="'Liberation Serif', 'Times New Roman', serif" font-weight="bold" font-size="70.5" text-anchor="end"  stroke="#fff" stroke-width="1.4">0.3</text>
<text transform="translate(490.6 75.4) scale(1.0 1.04)" font-family="'Liberation Serif', 'Times New Roman', serif" font-weight="bold" font-size="70.5" text-anchor="end"  stroke="#fff" stroke-width="1.4">0.35</text>
<text transform="translate(490.6 135.5) scale(1.0 1.04)" font-family="'Liberation Serif', 'Times New Roman', serif" font-weight="bold" font-size="70.5" text-anchor="end" letter-spacing="-1.5" stroke="#fff" stroke-width="1.4">0.331</text>
<text transform="translate(336 928) rotate(-90)" font-family="'Liberation Serif', 'Times New Roman', serif" font-weight="bold" font-size="82.2" stroke="#fff" stroke-width="1.6">Coupling Efficiency</text>
<text x="792.3" y="1158.8" font-family="'Liberation Serif', 'Times New Roman', serif" font-weight="bold" font-size="75.3" text-anchor="start" stroke="#fff" stroke-width="1.5">Wavelength</text>
<text transform="translate(1198.4 1159) scale(1.17 1)" font-family="'Liberation Serif', 'Times New Roman', serif" font-size="75.3">&#955;</text>
<text x="1262.5" y="1158.8" font-family="'Liberation Serif', 'Times New Roman', serif" font-weight="bold" font-size="75.3" text-anchor="start" stroke="#fff" stroke-width="1.5">(nm)</text>
<text x="185.4" y="139.5" font-family="'Noto Sans CJK JP', 'Liberation Sans', sans-serif" font-weight="normal" font-size="104">(a)</text>
<g id="pb">
<line x1="299.7" y1="1214" x2="299.7" y2="1867.6" stroke="#cdcdcd" stroke-width="2.6" stroke-dasharray="2.6 5.4"/>
<line x1="404.1" y1="1214" x2="404.1" y2="1867.6" stroke="#cdcdcd" stroke-width="2.6" stroke-dasharray="2.6 5.4"/>
<line x1="456.3" y1="1214" x2="456.3" y2="1867.6" stroke="#cdcdcd" stroke-width="2.6" stroke-dasharray="2.6 5.4"/>
<line x1="508.5" y1="1214" x2="508.5" y2="1867.6" stroke="#cdcdcd" stroke-width="2.6" stroke-dasharray="2.6 5.4"/>
<line x1="612.9" y1="1214" x2="612.9" y2="1867.6" stroke="#cdcdcd" stroke-width="2.6" stroke-dasharray="2.6 5.4"/>
<line x1="665.1" y1="1214" x2="665.1" y2="1867.6" stroke="#cdcdcd" stroke-width="2.6" stroke-dasharray="2.6 5.4"/>
<line x1="717.3" y1="1214" x2="717.3" y2="1867.6" stroke="#cdcdcd" stroke-width="2.6" stroke-dasharray="2.6 5.4"/>
<line x1="821.7" y1="1214" x2="821.7" y2="1867.6" stroke="#cdcdcd" stroke-width="2.6" stroke-dasharray="2.6 5.4"/>
<line x1="873.9" y1="1214" x2="873.9" y2="1867.6" stroke="#cdcdcd" stroke-width="2.6" stroke-dasharray="2.6 5.4"/>
<line x1="926.1" y1="1214" x2="926.1" y2="1867.6" stroke="#cdcdcd" stroke-width="2.6" stroke-dasharray="2.6 5.4"/>
<line x1="1030.5" y1="1214" x2="1030.5" y2="1867.6" stroke="#cdcdcd" stroke-width="2.6" stroke-dasharray="2.6 5.4"/>
<line x1="247.5" y1="1851.2" x2="1083" y2="1851.2" stroke="#cdcdcd" stroke-width="2.6" stroke-dasharray="2.6 5.4"/>
<line x1="247.5" y1="1818.5" x2="1083" y2="1818.5" stroke="#cdcdcd" stroke-width="2.6" stroke-dasharray="2.6 5.4"/>
<line x1="247.5" y1="1753.1" x2="1083" y2="1753.1" stroke="#cdcdcd" stroke-width="2.6" stroke-dasharray="2.6 5.4"/>
<line x1="247.5" y1="1720.4" x2="1083" y2="1720.4" stroke="#cdcdcd" stroke-width="2.6" stroke-dasharray="2.6 5.4"/>
<line x1="247.5" y1="1687.6" x2="1083" y2="1687.6" stroke="#cdcdcd" stroke-width="2.6" stroke-dasharray="2.6 5.4"/>
<line x1="247.5" y1="1654.9" x2="1083" y2="1654.9" stroke="#cdcdcd" stroke-width="2.6" stroke-dasharray="2.6 5.4"/>
<line x1="247.5" y1="1589.5" x2="1083" y2="1589.5" stroke="#cdcdcd" stroke-width="2.6" stroke-dasharray="2.6 5.4"/>
<line x1="247.5" y1="1556.8" x2="1083" y2="1556.8" stroke="#cdcdcd" stroke-width="2.6" stroke-dasharray="2.6 5.4"/>
<line x1="247.5" y1="1524" x2="1083" y2="1524" stroke="#cdcdcd" stroke-width="2.6" stroke-dasharray="2.6 5.4"/>
<line x1="247.5" y1="1491.3" x2="1083" y2="1491.3" stroke="#cdcdcd" stroke-width="2.6" stroke-dasharray="2.6 5.4"/>
<line x1="247.5" y1="1425.9" x2="1083" y2="1425.9" stroke="#cdcdcd" stroke-width="2.6" stroke-dasharray="2.6 5.4"/>
<line x1="247.5" y1="1393.2" x2="1083" y2="1393.2" stroke="#cdcdcd" stroke-width="2.6" stroke-dasharray="2.6 5.4"/>
<line x1="247.5" y1="1360.4" x2="1083" y2="1360.4" stroke="#cdcdcd" stroke-width="2.6" stroke-dasharray="2.6 5.4"/>
<line x1="247.5" y1="1327.7" x2="1083" y2="1327.7" stroke="#cdcdcd" stroke-width="2.6" stroke-dasharray="2.6 5.4"/>
<line x1="247.5" y1="1262.3" x2="1083" y2="1262.3" stroke="#cdcdcd" stroke-width="2.6" stroke-dasharray="2.6 5.4"/>
<line x1="247.5" y1="1229.6" x2="1083" y2="1229.6" stroke="#cdcdcd" stroke-width="2.6" stroke-dasharray="2.6 5.4"/>
<line x1="351.9" y1="1214" x2="351.9" y2="1867.6" stroke="#e4e4e4" stroke-width="3"/>
<line x1="560.7" y1="1214" x2="560.7" y2="1867.6" stroke="#e4e4e4" stroke-width="3"/>
<line x1="769.5" y1="1214" x2="769.5" y2="1867.6" stroke="#e4e4e4" stroke-width="3"/>
<line x1="978.3" y1="1214" x2="978.3" y2="1867.6" stroke="#e4e4e4" stroke-width="3"/>
<line x1="247.5" y1="1785.8" x2="1083" y2="1785.8" stroke="#e4e4e4" stroke-width="3"/>
<line x1="247.5" y1="1622.2" x2="1083" y2="1622.2" stroke="#e4e4e4" stroke-width="3"/>
<line x1="247.5" y1="1458.6" x2="1083" y2="1458.6" stroke="#e4e4e4" stroke-width="3"/>
<line x1="247.5" y1="1295" x2="1083" y2="1295" stroke="#e4e4e4" stroke-width="3"/>
<path d="M247.5 1860.9 L268.9 1846.3 L290.3 1833.1 L311.7 1818.5 L333.2 1802.6 L354.6 1782.7 L376 1764.1 L397.4 1744.3 L418.8 1723 L440.2 1699.2 L461.7 1675.5 L483.1 1651 L504.5 1627 L525.9 1602.3 L547.3 1575.7 L568.7 1547.5 L590.1 1520.7 L611.6 1492.7 L633 1464.6 L654.4 1440.6 L675.8 1415.2 L697.2 1389.8 L718.6 1367.1 L740.1 1345.3 L761.5 1324.6 L782.9 1304.8 L804.3 1286.5 L825.7 1269.8 L847.1 1255 L868.5 1241.5 L890 1230.8 L911.4 1224.1 L932.8 1221.4 L954.2 1224.1 L975.6 1230.8 L997 1240.1 L1018.5 1252.2 L1039.9 1268.2 L1061.3 1286.9 L1082.7 1309.6" stroke="#ff0000" stroke-width="12" fill="none" stroke-linejoin="round"/>
<circle cx="247.5" cy="1860.9" r="11.5" fill="#ff0000"/>
<circle cx="268.9" cy="1846.3" r="11.5" fill="#ff0000"/>
<circle cx="290.3" cy="1833.1" r="11.5" fill="#ff0000"/>
<circle cx="311.7" cy="1818.5" r="11.5" fill="#ff0000"/>
<circle cx="333.2" cy="1802.6" r="11.5" fill="#ff0000"/>
<circle cx="354.6" cy="1782.7" r="11.5" fill="#ff0000"/>
<circle cx="376" cy="1764.1" r="11.5" fill="#ff0000"/>
<circle cx="397.4" cy="1744.3" r="11.5" fill="#ff0000"/>
<circle cx="418.8" cy="1723" r="11.5" fill="#ff0000"/>
<circle cx="440.2" cy="1699.2" r="11.5" fill="#ff0000"/>
<circle cx="461.7" cy="1675.5" r="11.5" fill="#ff0000"/>
<circle cx="483.1" cy="1651" r="11.5" fill="#ff0000"/>
<circle cx="504.5" cy="1627" r="11.5" fill="#ff0000"/>
<circle cx="525.9" cy="1602.3" r="11.5" fill="#ff0000"/>
<circle cx="547.3" cy="1575.7" r="11.5" fill="#ff0000"/>
<circle cx="568.7" cy="1547.5" r="11.5" fill="#ff0000"/>
<circle cx="590.1" cy="1520.7" r="11.5" fill="#ff0000"/>
<circle cx="611.6" cy="1492.7" r="11.5" fill="#ff0000"/>
<circle cx="633" cy="1464.6" r="11.5" fill="#ff0000"/>
<circle cx="654.4" cy="1440.6" r="11.5" fill="#ff0000"/>
<circle cx="675.8" cy="1415.2" r="11.5" fill="#ff0000"/>
<circle cx="697.2" cy="1389.8" r="11.5" fill="#ff0000"/>
<circle cx="718.6" cy="1367.1" r="11.5" fill="#ff0000"/>
<circle cx="740.1" cy="1345.3" r="11.5" fill="#ff0000"/>
<circle cx="761.5" cy="1324.6" r="11.5" fill="#ff0000"/>
<circle cx="782.9" cy="1304.8" r="11.5" fill="#ff0000"/>
<circle cx="804.3" cy="1286.5" r="11.5" fill="#ff0000"/>
<circle cx="825.7" cy="1269.8" r="11.5" fill="#ff0000"/>
<circle cx="847.1" cy="1255" r="11.5" fill="#ff0000"/>
<circle cx="868.5" cy="1241.5" r="11.5" fill="#ff0000"/>
<circle cx="890" cy="1230.8" r="11.5" fill="#ff0000"/>
<circle cx="911.4" cy="1224.1" r="11.5" fill="#ff0000"/>
<circle cx="932.8" cy="1221.4" r="11.5" fill="#ff0000"/>
<circle cx="954.2" cy="1224.1" r="11.5" fill="#ff0000"/>
<circle cx="975.6" cy="1230.8" r="11.5" fill="#ff0000"/>
<circle cx="997" cy="1240.1" r="11.5" fill="#ff0000"/>
<circle cx="1018.5" cy="1252.2" r="11.5" fill="#ff0000"/>
<circle cx="1039.9" cy="1268.2" r="11.5" fill="#ff0000"/>
<circle cx="1061.3" cy="1286.9" r="11.5" fill="#ff0000"/>
<circle cx="1082.7" cy="1309.6" r="11.5" fill="#ff0000"/>
<path d="M247.5 1668 L268.9 1642.3 L290.3 1615 L311.7 1589 L333.2 1563 L354.6 1538 L376 1512.7 L397.4 1491.3 L418.8 1470 L440.2 1451.2 L461.7 1433.9 L483.1 1419.2 L504.5 1404.5 L525.9 1395.1 L547.3 1387.1 L568.7 1384.4 L590.1 1381.8 L611.6 1383.1 L633 1384.5 L654.4 1389 L675.8 1397.8 L697.2 1405.8 L718.6 1415.2 L740.1 1427.2 L761.5 1440.6 L782.9 1455.3 L804.3 1471.3 L825.7 1487.3 L847.1 1506 L868.5 1524.7 L890 1543.4 L911.4 1562.1 L932.8 1582.2 L954.2 1602.2 L975.6 1622.3 L997 1641 L1018.5 1661 L1039.9 1678 L1061.3 1700 L1082.7 1721.4" stroke="#0000ff" stroke-width="12" fill="none" stroke-linejoin="round"/>
<circle cx="247.5" cy="1668" r="11.5" fill="#0000ff"/>
<circle cx="268.9" cy="1642.3" r="11.5" fill="#0000ff"/>
<circle cx="290.3" cy="1615" r="11.5" fill="#0000ff"/>
<circle cx="311.7" cy="1589" r="11.5" fill="#0000ff"/>
<circle cx="333.2" cy="1563" r="11.5" fill="#0000ff"/>
<circle cx="354.6" cy="1538" r="11.5" fill="#0000ff"/>
<circle cx="376" cy="1512.7" r="11.5" fill="#0000ff"/>
<circle cx="397.4" cy="1491.3" r="11.5" fill="#0000ff"/>
<circle cx="418.8" cy="1470" r="11.5" fill="#0000ff"/>
<circle cx="440.2" cy="1451.2" r="11.5" fill="#0000ff"/>
<circle cx="461.7" cy="1433.9" r="11.5" fill="#0000ff"/>
<circle cx="483.1" cy="1419.2" r="11.5" fill="#0000ff"/>
<circle cx="504.5" cy="1404.5" r="11.5" fill="#0000ff"/>
<circle cx="525.9" cy="1395.1" r="11.5" fill="#0000ff"/>
<circle cx="547.3" cy="1387.1" r="11.5" fill="#0000ff"/>
<circle cx="568.7" cy="1384.4" r="11.5" fill="#0000ff"/>
<circle cx="590.1" cy="1381.8" r="11.5" fill="#0000ff"/>
<circle cx="611.6" cy="1383.1" r="11.5" fill="#0000ff"/>
<circle cx="633" cy="1384.5" r="11.5" fill="#0000ff"/>
<circle cx="654.4" cy="1389" r="11.5" fill="#0000ff"/>
<circle cx="675.8" cy="1397.8" r="11.5" fill="#0000ff"/>
<circle cx="697.2" cy="1405.8" r="11.5" fill="#0000ff"/>
<circle cx="718.6" cy="1415.2" r="11.5" fill="#0000ff"/>
<circle cx="740.1" cy="1427.2" r="11.5" fill="#0000ff"/>
<circle cx="761.5" cy="1440.6" r="11.5" fill="#0000ff"/>
<circle cx="782.9" cy="1455.3" r="11.5" fill="#0000ff"/>
<circle cx="804.3" cy="1471.3" r="11.5" fill="#0000ff"/>
<circle cx="825.7" cy="1487.3" r="11.5" fill="#0000ff"/>
<circle cx="847.1" cy="1506" r="11.5" fill="#0000ff"/>
<circle cx="868.5" cy="1524.7" r="11.5" fill="#0000ff"/>
<circle cx="890" cy="1543.4" r="11.5" fill="#0000ff"/>
<circle cx="911.4" cy="1562.1" r="11.5" fill="#0000ff"/>
<circle cx="932.8" cy="1582.2" r="11.5" fill="#0000ff"/>
<circle cx="954.2" cy="1602.2" r="11.5" fill="#0000ff"/>
<circle cx="975.6" cy="1622.3" r="11.5" fill="#0000ff"/>
<circle cx="997" cy="1641" r="11.5" fill="#0000ff"/>
<circle cx="1018.5" cy="1661" r="11.5" fill="#0000ff"/>
<circle cx="1039.9" cy="1678" r="11.5" fill="#0000ff"/>
<circle cx="1061.3" cy="1700" r="11.5" fill="#0000ff"/>
<circle cx="1082.7" cy="1721.4" r="11.5" fill="#0000ff"/>
<path d="M253 1396 H684" stroke="#000" stroke-width="6" fill="none" stroke-linecap="round" stroke-dasharray="0.01 10.15"/>
<path d="M684.2 1400 V1866" stroke="#000" stroke-width="6" fill="none" stroke-linecap="round" stroke-dasharray="0.01 10.45"/>
<path d="M351.9 1867.6v-9 M351.9 1214v9 M560.7 1867.6v-9 M560.7 1214v9 M769.5 1867.6v-9 M769.5 1214v9 M978.3 1867.6v-9 M978.3 1214v9 M299.7 1867.6v-4.5 M299.7 1214v4.5 M351.9 1867.6v-4.5 M351.9 1214v4.5 M404.1 1867.6v-4.5 M404.1 1214v4.5 M456.3 1867.6v-4.5 M456.3 1214v4.5 M508.5 1867.6v-4.5 M508.5 1214v4.5 M560.7 1867.6v-4.5 M560.7 1214v4.5 M612.9 1867.6v-4.5 M612.9 1214v4.5 M665.1 1867.6v-4.5 M665.1 1214v4.5 M717.3 1867.6v-4.5 M717.3 1214v4.5 M769.5 1867.6v-4.5 M769.5 1214v4.5 M821.7 1867.6v-4.5 M821.7 1214v4.5 M873.9 1867.6v-4.5 M873.9 1214v4.5 M926.1 1867.6v-4.5 M926.1 1214v4.5 M978.3 1867.6v-4.5 M978.3 1214v4.5 M1030.5 1867.6v-4.5 M1030.5 1214v4.5" stroke="#8e8e8e" stroke-width="2.6" fill="none"/>
<path d="M247.5 1785.8h9 M1083 1785.8h-9 M247.5 1622.2h9 M1083 1622.2h-9 M247.5 1458.6h9 M1083 1458.6h-9 M247.5 1295h9 M1083 1295h-9 M247.5 1851.2h4.5 M1083 1851.2h-4.5 M247.5 1818.5h4.5 M1083 1818.5h-4.5 M247.5 1785.8h4.5 M1083 1785.8h-4.5 M247.5 1753.1h4.5 M1083 1753.1h-4.5 M247.5 1720.4h4.5 M1083 1720.4h-4.5 M247.5 1687.6h4.5 M1083 1687.6h-4.5 M247.5 1654.9h4.5 M1083 1654.9h-4.5 M247.5 1622.2h4.5 M1083 1622.2h-4.5 M247.5 1589.5h4.5 M1083 1589.5h-4.5 M247.5 1556.8h4.5 M1083 1556.8h-4.5 M247.5 1524h4.5 M1083 1524h-4.5 M247.5 1491.3h4.5 M1083 1491.3h-4.5 M247.5 1458.6h4.5 M1083 1458.6h-4.5 M247.5 1425.9h4.5 M1083 1425.9h-4.5 M247.5 1393.2h4.5 M1083 1393.2h-4.5 M247.5 1360.4h4.5 M1083 1360.4h-4.5 M247.5 1327.7h4.5 M1083 1327.7h-4.5 M247.5 1295h4.5 M1083 1295h-4.5 M247.5 1262.3h4.5 M1083 1262.3h-4.5 M247.5 1229.6h4.5 M1083 1229.6h-4.5" stroke="#8a8a8a" stroke-width="2.6" fill="none"/>
<path d="M245.8 1214H1084.7 M245.8 1867.6H1084.7" stroke="#8e8e8e" stroke-width="3.4" fill="none"/>
<path d="M247.5 1214V1867.6 M1083 1214V1867.6" stroke="#8a8a8a" stroke-width="3.4" fill="none"/>
<rect x="264.5" y="1225.4" width="599.5" height="136.3" fill="#fff" stroke="#8c8c8c" stroke-width="3"/>
<path d="M273.5 1260.2 H357.7" stroke="#ff0000" stroke-width="12"/>
<circle cx="315" cy="1260.2" r="11.5" fill="#ff0000"/>
<text x="364.4" y="1281.7" font-family="'Liberation Serif', 'Times New Roman', serif" font-weight="bold" font-size="56" text-anchor="start" stroke="#fff" stroke-width="0.8">y polarized to Port 1</text>
<path d="M273.5 1327 H357.7" stroke="#0000ff" stroke-width="12"/>
<circle cx="315" cy="1327" r="11.5" fill="#0000ff"/>
<text x="364.4" y="1348.5" font-family="'Liberation Serif', 'Times New Roman', serif" font-weight="bold" font-size="56" text-anchor="start" stroke="#fff" stroke-width="0.8">x polarized to Port 2</text>
</g>
<text transform="translate(351.9 1950.5) scale(0.98 1.02)" font-family="'Liberation Serif', 'Times New Roman', serif" font-weight="bold" font-size="70.5" text-anchor="middle"  stroke="#fff" stroke-width="1.4">1</text>
<text transform="translate(560.7 1950.5) scale(0.98 1.02)" font-family="'Liberation Serif', 'Times New Roman', serif" font-weight="bold" font-size="70.5" text-anchor="middle"  stroke="#fff" stroke-width="1.4">3</text>
<text transform="translate(769.5 1950.5) scale(0.98 1.02)" font-family="'Liberation Serif', 'Times New Roman', serif" font-weight="bold" font-size="70.5" text-anchor="middle"  stroke="#fff" stroke-width="1.4">5</text>
<text transform="translate(978.3 1950.5) scale(0.98 1.02)" font-family="'Liberation Serif', 'Times New Roman', serif" font-weight="bold" font-size="70.5" text-anchor="middle"  stroke="#fff" stroke-width="1.4">7</text>
<text transform="translate(682.5 1942) scale(0.98 1.02)" font-family="'Liberation Serif', 'Times New Roman', serif" font-weight="bold" font-size="70.5" text-anchor="middle"  stroke="#fff" stroke-width="1.4">4.2</text>
<text transform="translate(227 1815.5) scale(0.965 1.06)" font-family="'Liberation Serif', 'Times New Roman', serif" font-weight="bold" font-size="70.5" text-anchor="end"  stroke="#fff" stroke-width="1.4">0.1</text>
<text transform="translate(227 1651) scale(0.965 1.06)" font-family="'Liberation Serif', 'Times New Roman', serif" font-weight="bold" font-size="70.5" text-anchor="end"  stroke="#fff" stroke-width="1.4">0.2</text>
<text transform="translate(227 1486.5) scale(0.965 1.06)" font-family="'Liberation Serif', 'Times New Roman', serif" font-weight="bold" font-size="70.5" text-anchor="end"  stroke="#fff" stroke-width="1.4">0.3</text>
<text transform="translate(227 1322) scale(0.965 1.06)" font-family="'Liberation Serif', 'Times New Roman', serif" font-weight="bold" font-size="70.5" text-anchor="end"  stroke="#fff" stroke-width="1.4">0.4</text>
<text transform="translate(241.5 1418) scale(0.965 1.04)" font-family="'Liberation Serif', 'Times New Roman', serif" font-weight="bold" font-size="70.5" text-anchor="end" letter-spacing="-1.2" stroke="#fff" stroke-width="1.4">0.331</text>
<text transform="translate(85 1892) rotate(-90) scale(0.92 1)" font-family="'Liberation Serif', 'Times New Roman', serif" font-weight="bold" font-size="81" stroke="#fff" stroke-width="1.6">Couping Efficiency</text>
<text x="178.7" y="2014" font-family="'Liberation Serif', 'Times New Roman', serif" font-weight="bold" font-size="74" text-anchor="start" stroke="#fff" stroke-width="1.5">Position of incident light</text>
<text x="969.5" y="2014" font-family="'Liberation Serif', 'Times New Roman', serif" font-weight="bold" font-size="74" text-anchor="start" stroke="#fff" stroke-width="1.5">(</text>
<text transform="translate(1001.6 2014) scale(1.25 1)" font-family="'Liberation Serif', 'Times New Roman', serif" font-style="italic" font-size="74">&#956;</text>
<text x="1047.9" y="2014" font-family="'Liberation Serif', 'Times New Roman', serif" font-weight="bold" font-size="74" text-anchor="start" stroke="#fff" stroke-width="1.5">m)</text>
<text x="101" y="1207.3" font-family="'Noto Sans CJK JP', 'Liberation Sans', sans-serif" font-weight="normal" font-size="104">(b)</text>
<g id="pc">
<line x1="1342.1" y1="1212" x2="1342.1" y2="1880.5" stroke="#cdcdcd" stroke-width="2.6" stroke-dasharray="2.6 5.4"/>
<line x1="1376.5" y1="1212" x2="1376.5" y2="1880.5" stroke="#cdcdcd" stroke-width="2.6" stroke-dasharray="2.6 5.4"/>
<line x1="1410.9" y1="1212" x2="1410.9" y2="1880.5" stroke="#cdcdcd" stroke-width="2.6" stroke-dasharray="2.6 5.4"/>
<line x1="1479.7" y1="1212" x2="1479.7" y2="1880.5" stroke="#cdcdcd" stroke-width="2.6" stroke-dasharray="2.6 5.4"/>
<line x1="1514.1" y1="1212" x2="1514.1" y2="1880.5" stroke="#cdcdcd" stroke-width="2.6" stroke-dasharray="2.6 5.4"/>
<line x1="1548.5" y1="1212" x2="1548.5" y2="1880.5" stroke="#cdcdcd" stroke-width="2.6" stroke-dasharray="2.6 5.4"/>
<line x1="1617.3" y1="1212" x2="1617.3" y2="1880.5" stroke="#cdcdcd" stroke-width="2.6" stroke-dasharray="2.6 5.4"/>
<line x1="1651.7" y1="1212" x2="1651.7" y2="1880.5" stroke="#cdcdcd" stroke-width="2.6" stroke-dasharray="2.6 5.4"/>
<line x1="1686.1" y1="1212" x2="1686.1" y2="1880.5" stroke="#cdcdcd" stroke-width="2.6" stroke-dasharray="2.6 5.4"/>
<line x1="1754.9" y1="1212" x2="1754.9" y2="1880.5" stroke="#cdcdcd" stroke-width="2.6" stroke-dasharray="2.6 5.4"/>
<line x1="1789.3" y1="1212" x2="1789.3" y2="1880.5" stroke="#cdcdcd" stroke-width="2.6" stroke-dasharray="2.6 5.4"/>
<line x1="1823.7" y1="1212" x2="1823.7" y2="1880.5" stroke="#cdcdcd" stroke-width="2.6" stroke-dasharray="2.6 5.4"/>
<line x1="1892.5" y1="1212" x2="1892.5" y2="1880.5" stroke="#cdcdcd" stroke-width="2.6" stroke-dasharray="2.6 5.4"/>
<line x1="1926.9" y1="1212" x2="1926.9" y2="1880.5" stroke="#cdcdcd" stroke-width="2.6" stroke-dasharray="2.6 5.4"/>
<line x1="1961.3" y1="1212" x2="1961.3" y2="1880.5" stroke="#cdcdcd" stroke-width="2.6" stroke-dasharray="2.6 5.4"/>
<line x1="2030.1" y1="1212" x2="2030.1" y2="1880.5" stroke="#cdcdcd" stroke-width="2.6" stroke-dasharray="2.6 5.4"/>
<line x1="2064.5" y1="1212" x2="2064.5" y2="1880.5" stroke="#cdcdcd" stroke-width="2.6" stroke-dasharray="2.6 5.4"/>
<line x1="2098.9" y1="1212" x2="2098.9" y2="1880.5" stroke="#cdcdcd" stroke-width="2.6" stroke-dasharray="2.6 5.4"/>
<line x1="2133.3" y1="1212" x2="2133.3" y2="1880.5" stroke="#cdcdcd" stroke-width="2.6" stroke-dasharray="2.6 5.4"/>
<line x1="1307.5" y1="1803.3" x2="2164.5" y2="1803.3" stroke="#cdcdcd" stroke-width="2.6" stroke-dasharray="2.6 5.4"/>
<line x1="1307.5" y1="1741.7" x2="2164.5" y2="1741.7" stroke="#cdcdcd" stroke-width="2.6" stroke-dasharray="2.6 5.4"/>
<line x1="1307.5" y1="1680" x2="2164.5" y2="1680" stroke="#cdcdcd" stroke-width="2.6" stroke-dasharray="2.6 5.4"/>
<line x1="1307.5" y1="1556.6" x2="2164.5" y2="1556.6" stroke="#cdcdcd" stroke-width="2.6" stroke-dasharray="2.6 5.4"/>
<line x1="1307.5" y1="1495" x2="2164.5" y2="1495" stroke="#cdcdcd" stroke-width="2.6" stroke-dasharray="2.6 5.4"/>
<line x1="1307.5" y1="1433.3" x2="2164.5" y2="1433.3" stroke="#cdcdcd" stroke-width="2.6" stroke-dasharray="2.6 5.4"/>
<line x1="1307.5" y1="1309.9" x2="2164.5" y2="1309.9" stroke="#cdcdcd" stroke-width="2.6" stroke-dasharray="2.6 5.4"/>
<line x1="1307.5" y1="1248.2" x2="2164.5" y2="1248.2" stroke="#cdcdcd" stroke-width="2.6" stroke-dasharray="2.6 5.4"/>
<line x1="1445.3" y1="1212" x2="1445.3" y2="1880.5" stroke="#e4e4e4" stroke-width="3"/>
<line x1="1582.9" y1="1212" x2="1582.9" y2="1880.5" stroke="#e4e4e4" stroke-width="3"/>
<line x1="1720.5" y1="1212" x2="1720.5" y2="1880.5" stroke="#e4e4e4" stroke-width="3"/>
<line x1="1858.1" y1="1212" x2="1858.1" y2="1880.5" stroke="#e4e4e4" stroke-width="3"/>
<line x1="1995.7" y1="1212" x2="1995.7" y2="1880.5" stroke="#e4e4e4" stroke-width="3"/>
<line x1="1307.5" y1="1865" x2="2164.5" y2="1865" stroke="#e4e4e4" stroke-width="3"/>
<line x1="1307.5" y1="1618.3" x2="2164.5" y2="1618.3" stroke="#e4e4e4" stroke-width="3"/>
<line x1="1307.5" y1="1371.6" x2="2164.5" y2="1371.6" stroke="#e4e4e4" stroke-width="3"/>
<path d="M1307.7 1381.4 L1310.6 1380.4 L1313.4 1379.3 L1316.3 1378.2 L1319.1 1377.1 L1322 1376 L1324.9 1375 L1327.7 1373.9 L1330.6 1372.9 L1333.5 1371.8 L1336.3 1370.8 L1339.2 1369.8 L1342 1368.8 L1344.9 1367.8 L1347.8 1366.8 L1350.6 1365.9 L1353.5 1364.9 L1356.4 1364 L1359.2 1363.1 L1362.1 1362.3 L1364.9 1361.5 L1367.8 1360.7 L1370.7 1359.9 L1373.5 1359.2 L1376.4 1358.5 L1379.3 1357.8 L1382.1 1357.2 L1385 1356.6 L1387.8 1356.1 L1390.7 1355.6 L1393.6 1355.1 L1396.4 1354.7 L1399.3 1354.3 L1402.2 1354 L1405 1353.7 L1407.9 1353.4 L1410.7 1353.2 L1413.6 1353 L1416.5 1352.8 L1419.3 1352.7 L1422.2 1352.6 L1425.1 1352.6 L1427.9 1352.6 L1430.8 1352.6 L1433.6 1352.6 L1436.5 1352.7 L1439.4 1352.9 L1442.2 1353 L1445.1 1353.2 L1448 1353.5 L1450.8 1353.7 L1453.7 1354 L1456.5 1354.4 L1459.4 1354.7 L1462.3 1355.1 L1465.1 1355.6 L1468 1356 L1470.9 1356.5 L1473.7 1357 L1476.6 1357.6 L1479.4 1358.2 L1482.3 1358.8 L1485.2 1359.4 L1488 1360.1 L1490.9 1360.8 L1493.8 1361.6 L1496.6 1362.3 L1499.5 1363.1 L1502.3 1363.9 L1505.2 1364.8 L1508.1 1365.7 L1510.9 1366.6 L1513.8 1367.5 L1516.7 1368.5 L1519.5 1369.4 L1522.4 1370.5 L1525.2 1371.5 L1528.1 1372.6 L1531 1373.6 L1533.8 1374.8 L1536.7 1375.9 L1539.6 1377.1 L1542.4 1378.3 L1545.3 1379.5 L1548.1 1380.7 L1551 1382 L1553.9 1383.2 L1556.7 1384.5 L1559.6 1385.9 L1562.5 1387.2 L1565.3 1388.6 L1568.2 1390 L1571 1391.4 L1573.9 1392.8 L1576.8 1394.3 L1579.6 1395.8 L1582.5 1397.3 L1585.4 1398.8 L1588.2 1400.3 L1591.1 1401.9 L1593.9 1403.5 L1596.8 1405.1 L1599.7 1406.7 L1602.5 1408.3 L1605.4 1409.9 L1608.3 1411.6 L1611.1 1413.3 L1614 1415 L1616.8 1416.7 L1619.7 1418.4 L1622.6 1420.2 L1625.4 1422 L1628.3 1423.7 L1631.2 1425.5 L1634 1427.4 L1636.9 1429.2 L1639.7 1431 L1642.6 1432.9 L1645.5 1434.7 L1648.3 1436.6 L1651.2 1438.5 L1654.1 1440.4 L1656.9 1442.3 L1659.8 1444.3 L1662.6 1446.2 L1665.5 1448.2 L1668.4 1450.1 L1671.2 1452.1 L1674.1 1454.1 L1677 1456.1 L1679.8 1458.1 L1682.7 1460.1 L1685.5 1462.2 L1688.4 1464.2 L1691.3 1466.3 L1694.1 1468.3 L1697 1470.4 L1699.9 1472.5 L1702.7 1474.6 L1705.6 1476.6 L1708.4 1478.7 L1711.3 1480.8 L1714.2 1483 L1717 1485.1 L1719.9 1487.2 L1722.8 1489.3 L1725.6 1491.5 L1728.5 1493.6 L1731.3 1495.8 L1734.2 1497.9 L1737.1 1500.1 L1739.9 1502.2 L1742.8 1504.4 L1745.7 1506.5 L1748.5 1508.7 L1751.4 1510.9 L1754.2 1513.1 L1757.1 1515.2 L1760 1517.4 L1762.8 1519.6 L1765.7 1521.8 L1768.6 1524 L1771.4 1526.2 L1774.3 1528.3 L1777.1 1530.5 L1780 1532.7 L1782.9 1534.9 L1785.7 1537.1 L1788.6 1539.3 L1791.5 1541.5 L1794.3 1543.6 L1797.2 1545.8 L1800 1548 L1802.9 1550.2 L1805.8 1552.4 L1808.6 1554.5 L1811.5 1556.7 L1814.4 1558.9 L1817.2 1561 L1820.1 1563.2 L1822.9 1565.3 L1825.8 1567.4 L1828.7 1569.6 L1831.5 1571.7 L1834.4 1573.8 L1837.3 1575.9 L1840.1 1578 L1843 1580 L1845.8 1582.1 L1848.7 1584.2 L1851.6 1586.2 L1854.4 1588.2 L1857.3 1590.2 L1860.2 1592.2 L1863 1594.2 L1865.9 1596.1 L1868.7 1598 L1871.6 1599.9 L1874.5 1601.8 L1877.3 1603.7 L1880.2 1605.6 L1883.1 1607.4 L1885.9 1609.2 L1888.8 1611 L1891.6 1612.7 L1894.5 1614.4 L1897.4 1616.1 L1900.2 1617.8 L1903.1 1619.5 L1906 1621.1 L1908.8 1622.7 L1911.7 1624.2 L1914.5 1625.8 L1917.4 1627.3 L1920.3 1628.7 L1923.1 1630.2 L1926 1631.6 L1928.9 1633 L1931.7 1634.3 L1934.6 1635.6 L1937.4 1636.9 L1940.3 1638.2 L1943.2 1639.4 L1946 1640.6 L1948.9 1641.7 L1951.8 1642.9 L1954.6 1644 L1957.5 1645.1 L1960.3 1646.1 L1963.2 1647.1 L1966.1 1648.1 L1968.9 1649.1 L1971.8 1650.1 L1974.7 1651 L1977.5 1651.9 L1980.4 1652.7 L1983.2 1653.6 L1986.1 1654.4 L1989 1655.2 L1991.8 1655.9 L1994.7 1656.7 L1997.6 1657.4 L2000.4 1658 L2003.3 1658.7 L2006.1 1659.3 L2009 1660 L2011.9 1660.5 L2014.7 1661.1 L2017.6 1661.6 L2020.4 1662.2 L2023.3 1662.7 L2026.2 1663.1 L2029 1663.6 L2031.9 1664 L2034.8 1664.4 L2037.6 1664.8 L2040.5 1665.1 L2043.3 1665.4 L2046.2 1665.7 L2049.1 1666 L2051.9 1666.2 L2054.8 1666.4 L2057.7 1666.5 L2060.5 1666.6 L2063.4 1666.7 L2066.2 1666.7 L2069.1 1666.7 L2072 1666.6 L2074.8 1666.5 L2077.7 1666.4 L2080.6 1666.2 L2083.4 1666 L2086.3 1665.7 L2089.1 1665.3 L2092 1664.9 L2094.9 1664.5 L2097.7 1664 L2100.6 1663.4 L2103.5 1662.8 L2106.3 1662.1 L2109.2 1661.4 L2112 1660.6 L2114.9 1659.7 L2117.8 1658.8 L2120.6 1657.8 L2123.5 1656.7 L2126.4 1655.6 L2129.2 1654.3 L2132.1 1653 L2134.9 1651.7 L2137.8 1650.2 L2140.7 1648.6 L2143.5 1647 L2146.4 1645.2 L2149.3 1643.4 L2152.1 1641.4 L2155 1639.4 L2157.8 1637.2 L2160.7 1634.9 L2163.6 1632.5" stroke="#ff0000" stroke-width="12" fill="none" stroke-dasharray="48.5 8 26 8" stroke-dashoffset="5.5"/>
<path d="M1307.7 1657.9 L1310.6 1657.1 L1313.4 1656.3 L1316.3 1655.5 L1319.1 1654.7 L1322 1653.9 L1324.9 1653 L1327.7 1652.2 L1330.6 1651.3 L1333.5 1650.4 L1336.3 1649.5 L1339.2 1648.6 L1342 1647.7 L1344.9 1646.7 L1347.8 1645.8 L1350.6 1644.8 L1353.5 1643.8 L1356.4 1642.9 L1359.2 1641.8 L1362.1 1640.8 L1364.9 1639.8 L1367.8 1638.8 L1370.7 1637.7 L1373.5 1636.7 L1376.4 1635.6 L1379.3 1634.5 L1382.1 1633.4 L1385 1632.4 L1387.8 1631.3 L1390.7 1630.2 L1393.6 1629.1 L1396.4 1628 L1399.3 1626.9 L1402.2 1625.8 L1405 1624.7 L1407.9 1623.6 L1410.7 1622.5 L1413.6 1621.5 L1416.5 1620.4 L1419.3 1619.3 L1422.2 1618.2 L1425.1 1617.2 L1427.9 1616.1 L1430.8 1615.1 L1433.6 1614 L1436.5 1613 L1439.4 1612 L1442.2 1611 L1445.1 1610 L1448 1609 L1450.8 1608.1 L1453.7 1607.1 L1456.5 1606.2 L1459.4 1605.3 L1462.3 1604.4 L1465.1 1603.4 L1468 1602.6 L1470.9 1601.7 L1473.7 1600.8 L1476.6 1600 L1479.4 1599.1 L1482.3 1598.3 L1485.2 1597.5 L1488 1596.7 L1490.9 1595.9 L1493.8 1595.1 L1496.6 1594.3 L1499.5 1593.6 L1502.3 1592.8 L1505.2 1592.1 L1508.1 1591.4 L1510.9 1590.7 L1513.8 1590 L1516.7 1589.3 L1519.5 1588.6 L1522.4 1588 L1525.2 1587.3 L1528.1 1586.7 L1531 1586.1 L1533.8 1585.5 L1536.7 1584.9 L1539.6 1584.3 L1542.4 1583.7 L1545.3 1583.1 L1548.1 1582.6 L1551 1582.1 L1553.9 1581.6 L1556.7 1581 L1559.6 1580.6 L1562.5 1580.1 L1565.3 1579.6 L1568.2 1579.2 L1571 1578.7 L1573.9 1578.3 L1576.8 1577.9 L1579.6 1577.5 L1582.5 1577.1 L1585.4 1576.7 L1588.2 1576.3 L1591.1 1576 L1593.9 1575.6 L1596.8 1575.3 L1599.7 1575 L1602.5 1574.7 L1605.4 1574.4 L1608.3 1574.1 L1611.1 1573.9 L1614 1573.6 L1616.8 1573.4 L1619.7 1573.2 L1622.6 1573 L1625.4 1572.8 L1628.3 1572.6 L1631.2 1572.4 L1634 1572.3 L1636.9 1572.1 L1639.7 1572 L1642.6 1571.9 L1645.5 1571.8 L1648.3 1571.7 L1651.2 1571.6 L1654.1 1571.5 L1656.9 1571.5 L1659.8 1571.5 L1662.6 1571.4 L1665.5 1571.4 L1668.4 1571.4 L1671.2 1571.5 L1674.1 1571.5 L1677 1571.5 L1679.8 1571.6 L1682.7 1571.7 L1685.5 1571.7 L1688.4 1571.8 L1691.3 1572 L1694.1 1572.1 L1697 1572.2 L1699.9 1572.4 L1702.7 1572.5 L1705.6 1572.7 L1708.4 1572.9 L1711.3 1573.1 L1714.2 1573.4 L1717 1573.6 L1719.9 1573.8 L1722.8 1574.1 L1725.6 1574.4 L1728.5 1574.7 L1731.3 1575 L1734.2 1575.3 L1737.1 1575.6 L1739.9 1576 L1742.8 1576.3 L1745.7 1576.7 L1748.5 1577.1 L1751.4 1577.5 L1754.2 1577.9 L1757.1 1578.4 L1760 1578.8 L1762.8 1579.3 L1765.7 1579.7 L1768.6 1580.2 L1771.4 1580.7 L1774.3 1581.2 L1777.1 1581.8 L1780 1582.3 L1782.9 1582.9 L1785.7 1583.4 L1788.6 1584 L1791.5 1584.6 L1794.3 1585.2 L1797.2 1585.9 L1800 1586.5 L1802.9 1587.2 L1805.8 1587.8 L1808.6 1588.5 L1811.5 1589.2 L1814.4 1589.9 L1817.2 1590.7 L1820.1 1591.4 L1822.9 1592.1 L1825.8 1592.9 L1828.7 1593.7 L1831.5 1594.4 L1834.4 1595.2 L1837.3 1596 L1840.1 1596.9 L1843 1597.7 L1845.8 1598.5 L1848.7 1599.4 L1851.6 1600.2 L1854.4 1601.1 L1857.3 1602 L1860.2 1602.9 L1863 1603.8 L1865.9 1604.7 L1868.7 1605.6 L1871.6 1606.6 L1874.5 1607.5 L1877.3 1608.5 L1880.2 1609.4 L1883.1 1610.4 L1885.9 1611.4 L1888.8 1612.4 L1891.6 1613.4 L1894.5 1614.4 L1897.4 1615.4 L1900.2 1616.4 L1903.1 1617.4 L1906 1618.5 L1908.8 1619.5 L1911.7 1620.6 L1914.5 1621.6 L1917.4 1622.7 L1920.3 1623.8 L1923.1 1624.8 L1926 1625.9 L1928.9 1627 L1931.7 1628.1 L1934.6 1629.2 L1937.4 1630.3 L1940.3 1631.5 L1943.2 1632.6 L1946 1633.7 L1948.9 1634.8 L1951.8 1636 L1954.6 1637.1 L1957.5 1638.3 L1960.3 1639.4 L1963.2 1640.6 L1966.1 1641.8 L1968.9 1642.9 L1971.8 1644.1 L1974.7 1645.3 L1977.5 1646.4 L1980.4 1647.6 L1983.2 1648.8 L1986.1 1650 L1989 1651.2 L1991.8 1652.4 L1994.7 1653.6 L1997.6 1654.8 L2000.4 1656 L2003.3 1657.2 L2006.1 1658.4 L2009 1659.6 L2011.9 1660.8 L2014.7 1662.1 L2017.6 1663.3 L2020.4 1664.5 L2023.3 1665.7 L2026.2 1666.9 L2029 1668.1 L2031.9 1669.4 L2034.8 1670.6 L2037.6 1671.8 L2040.5 1673 L2043.3 1674.3 L2046.2 1675.5 L2049.1 1676.7 L2051.9 1677.9 L2054.8 1679.1 L2057.7 1680.4 L2060.5 1681.6 L2063.4 1682.8 L2066.2 1684 L2069.1 1685.2 L2072 1686.5 L2074.8 1687.7 L2077.7 1688.9 L2080.6 1690.1 L2083.4 1691.3 L2086.3 1692.5 L2089.1 1693.7 L2092 1694.9 L2094.9 1696.1 L2097.7 1697.3 L2100.6 1698.5 L2103.5 1699.7 L2106.3 1700.9 L2109.2 1702 L2112 1703.2 L2114.9 1704.4 L2117.8 1705.5 L2120.6 1706.7 L2123.5 1707.8 L2126.4 1708.9 L2129.2 1710 L2132.1 1711.1 L2134.9 1712.2 L2137.8 1713.3 L2140.7 1714.3 L2143.5 1715.4 L2146.4 1716.4 L2149.3 1717.4 L2152.1 1718.4 L2155 1719.4 L2157.8 1720.3 L2160.7 1721.2 L2163.6 1722.1" stroke="#0000ff" stroke-width="12" fill="none" stroke-dasharray="48.5 8 26 8" stroke-dashoffset="3"/>
<path d="M1445.3 1880.5v-9 M1445.3 1212v9 M1582.9 1880.5v-9 M1582.9 1212v9 M1720.5 1880.5v-9 M1720.5 1212v9 M1858.1 1880.5v-9 M1858.1 1212v9 M1995.7 1880.5v-9 M1995.7 1212v9 M1342.1 1880.5v-4.5 M1342.1 1212v4.5 M1376.5 1880.5v-4.5 M1376.5 1212v4.5 M1410.9 1880.5v-4.5 M1410.9 1212v4.5 M1445.3 1880.5v-4.5 M1445.3 1212v4.5 M1479.7 1880.5v-4.5 M1479.7 1212v4.5 M1514.1 1880.5v-4.5 M1514.1 1212v4.5 M1548.5 1880.5v-4.5 M1548.5 1212v4.5 M1582.9 1880.5v-4.5 M1582.9 1212v4.5 M1617.3 1880.5v-4.5 M1617.3 1212v4.5 M1651.7 1880.5v-4.5 M1651.7 1212v4.5 M1686.1 1880.5v-4.5 M1686.1 1212v4.5 M1720.5 1880.5v-4.5 M1720.5 1212v4.5 M1754.9 1880.5v-4.5 M1754.9 1212v4.5 M1789.3 1880.5v-4.5 M1789.3 1212v4.5 M1823.7 1880.5v-4.5 M1823.7 1212v4.5 M1858.1 1880.5v-4.5 M1858.1 1212v4.5 M1892.5 1880.5v-4.5 M1892.5 1212v4.5 M1926.9 1880.5v-4.5 M1926.9 1212v4.5 M1961.3 1880.5v-4.5 M1961.3 1212v4.5 M1995.7 1880.5v-4.5 M1995.7 1212v4.5 M2030.1 1880.5v-4.5 M2030.1 1212v4.5 M2064.5 1880.5v-4.5 M2064.5 1212v4.5 M2098.9 1880.5v-4.5 M2098.9 1212v4.5 M2133.3 1880.5v-4.5 M2133.3 1212v4.5" stroke="#909090" stroke-width="2.6" fill="none"/>
<path d="M1307.5 1865h9 M2164.5 1865h-9 M1307.5 1618.3h9 M2164.5 1618.3h-9 M1307.5 1371.6h9 M2164.5 1371.6h-9 M1307.5 1803.3h4.5 M2164.5 1803.3h-4.5 M1307.5 1741.7h4.5 M2164.5 1741.7h-4.5 M1307.5 1680h4.5 M2164.5 1680h-4.5 M1307.5 1618.3h4.5 M2164.5 1618.3h-4.5 M1307.5 1556.6h4.5 M2164.5 1556.6h-4.5 M1307.5 1495h4.5 M2164.5 1495h-4.5 M1307.5 1433.3h4.5 M2164.5 1433.3h-4.5 M1307.5 1371.6h4.5 M2164.5 1371.6h-4.5 M1307.5 1309.9h4.5 M2164.5 1309.9h-4.5 M1307.5 1248.2h4.5 M2164.5 1248.2h-4.5" stroke="#8a8a8a" stroke-width="2.6" fill="none"/>
<path d="M1305.8 1212H2166.2 M1305.8 1880.5H2166.2" stroke="#909090" stroke-width="3.4" fill="none"/>
<path d="M1307.5 1212V1880.5 M2164.5 1212V1880.5" stroke="#8a8a8a" stroke-width="3.4" fill="none"/>
</g>
<text transform="translate(1445.3 1963.8) scale(0.985 1.03)" font-family="'Liberation Serif', 'Times New Roman', serif" font-weight="bold" font-size="70.5" text-anchor="middle"  stroke="#fff" stroke-width="1.4">791</text>
<text transform="translate(1582.9 1963.8) scale(0.985 1.03)" font-family="'Liberation Serif', 'Times New Roman', serif" font-weight="bold" font-size="70.5" text-anchor="middle"  stroke="#fff" stroke-width="1.4">793</text>
<text transform="translate(1720.5 1963.8) scale(0.985 1.03)" font-family="'Liberation Serif', 'Times New Roman', serif" font-weight="bold" font-size="70.5" text-anchor="middle"  stroke="#fff" stroke-width="1.4">795</text>
<text transform="translate(1858.1 1963.8) scale(0.985 1.03)" font-family="'Liberation Serif', 'Times New Roman', serif" font-weight="bold" font-size="70.5" text-anchor="middle"  stroke="#fff" stroke-width="1.4">797</text>
<text transform="translate(1995.7 1963.8) scale(0.985 1.03)" font-family="'Liberation Serif', 'Times New Roman', serif" font-weight="bold" font-size="70.5" text-anchor="middle"  stroke="#fff" stroke-width="1.4">799</text>
<text transform="translate(1285.6 1890) scale(0.975 1.04)" font-family="'Liberation Serif', 'Times New Roman', serif" font-weight="bold" font-size="70.5" text-anchor="end"  stroke="#fff" stroke-width="1.4">0</text>
<text transform="translate(1285.6 1643.3) scale(0.975 1.04)" font-family="'Liberation Serif', 'Times New Roman', serif" font-weight="bold" font-size="70.5" text-anchor="end"  stroke="#fff" stroke-width="1.4">0.002</text>
<text transform="translate(1285.6 1396.6) scale(0.975 1.04)" font-family="'Liberation Serif', 'Times New Roman', serif" font-weight="bold" font-size="70.5" text-anchor="end"  stroke="#fff" stroke-width="1.4">0.004</text>
<text x="1431.1" y="2023.4" font-family="'Liberation Serif', 'Times New Roman', serif" font-weight="bold" font-size="68.3" text-anchor="start" stroke="#fff" stroke-width="1.5">Wavelength</text>
<text transform="translate(1798 2023.6) scale(1.15 1)" font-family="'Liberation Serif', 'Times New Roman', serif" font-size="68.3">&#955;</text>
<text x="1851.6" y="2023.4" font-family="'Liberation Serif', 'Times New Roman', serif" font-weight="bold" font-size="70.5" text-anchor="start" stroke="#fff" stroke-width="1.5">(nm)</text>
<text x="1142" y="1291.5" font-family="'Noto Sans CJK JP', 'Liberation Sans', sans-serif" font-weight="normal" font-size="104">(c)</text>
</svg>
</body></html>
